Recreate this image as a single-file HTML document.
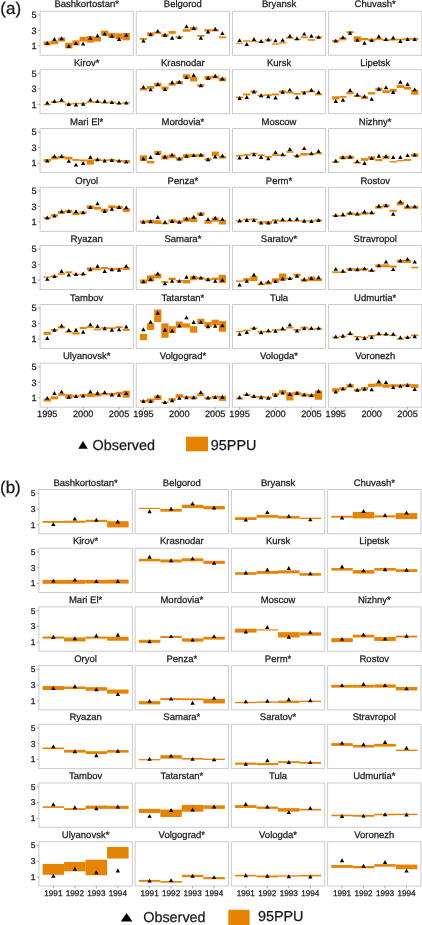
<!DOCTYPE html>
<html><head><meta charset="utf-8"><style>
html,body{margin:0;padding:0;background:#fff;width:422px;height:925px;overflow:hidden}
svg{display:block;will-change:transform}
text{font-family:"Liberation Sans",sans-serif;stroke:#1a1a1a;stroke-width:0.25px;text-rendering:geometricPrecision}
</style></head><body>
<svg width="422" height="925" viewBox="0 0 422 925">
<rect x="40.10" y="11.26" width="93.20" height="44.00" fill="#fff" stroke="#cbcbcb" stroke-width="1"/>
<line x1="37.70" x2="40.10" y1="14.86" y2="14.86" stroke="#9a9a9a" stroke-width="0.8"/>
<line x1="37.70" x2="40.10" y1="30.36" y2="30.36" stroke="#9a9a9a" stroke-width="0.8"/>
<line x1="37.70" x2="40.10" y1="45.86" y2="45.86" stroke="#9a9a9a" stroke-width="0.8"/>
<rect x="43.66" y="41.48" width="7.18" height="3.94" fill="#E68300"/>
<rect x="50.84" y="40.79" width="7.18" height="3.48" fill="#E68300"/>
<rect x="58.02" y="37.54" width="7.18" height="3.94" fill="#E68300"/>
<rect x="65.20" y="42.64" width="7.18" height="5.80" fill="#E68300"/>
<rect x="72.38" y="40.32" width="7.18" height="5.10" fill="#E68300"/>
<rect x="79.56" y="36.84" width="7.18" height="4.64" fill="#E68300"/>
<rect x="86.74" y="36.15" width="7.18" height="6.50" fill="#E68300"/>
<rect x="93.92" y="36.84" width="7.18" height="4.64" fill="#E68300"/>
<rect x="101.10" y="30.58" width="7.18" height="5.10" fill="#E68300"/>
<rect x="108.28" y="32.90" width="7.18" height="5.10" fill="#E68300"/>
<rect x="115.46" y="33.36" width="7.18" height="5.80" fill="#E68300"/>
<rect x="122.64" y="32.90" width="7.18" height="7.42" fill="#E68300"/>
<path d="M45.05 44.86L47.25 40.96L49.45 44.86Z"/>
<path d="M52.23 40.91L54.43 37.01L56.63 40.91Z"/>
<path d="M59.41 40.22L61.61 36.32L63.81 40.22Z"/>
<path d="M66.59 47.87L68.79 43.97L70.99 47.87Z"/>
<path d="M73.77 45.09L75.97 41.19L78.17 45.09Z"/>
<path d="M80.95 45.55L83.15 41.65L85.35 45.55Z"/>
<path d="M88.13 39.75L90.33 35.85L92.53 39.75Z"/>
<path d="M95.31 37.43L97.51 33.53L99.71 37.43Z"/>
<path d="M102.49 35.58L104.69 31.68L106.89 35.58Z"/>
<path d="M109.67 37.66L111.87 33.76L114.07 37.66Z"/>
<path d="M116.85 40.91L119.05 37.01L121.25 40.91Z"/>
<path d="M124.03 36.74L126.23 32.84L128.43 36.74Z"/>
<text x="86.70" y="7.41" font-size="9.5" text-anchor="middle" fill="#1a1a1a">Bashkortostan*</text>
<text x="36.70" y="18.06" font-size="9.2" text-anchor="end" fill="#1a1a1a">5</text>
<text x="36.70" y="33.56" font-size="9.2" text-anchor="end" fill="#1a1a1a">3</text>
<text x="36.70" y="49.06" font-size="9.2" text-anchor="end" fill="#1a1a1a">1</text>
<rect x="136.27" y="11.26" width="93.20" height="44.00" fill="#fff" stroke="#cbcbcb" stroke-width="1"/>
<rect x="139.83" y="38.00" width="7.18" height="1.86" fill="#E68300"/>
<rect x="147.01" y="32.43" width="7.18" height="3.25" fill="#E68300"/>
<rect x="154.19" y="31.74" width="7.18" height="2.09" fill="#E68300"/>
<rect x="161.37" y="34.06" width="7.18" height="2.78" fill="#E68300"/>
<rect x="168.55" y="31.04" width="7.18" height="2.78" fill="#E68300"/>
<rect x="175.73" y="36.15" width="7.18" height="1.86" fill="#E68300"/>
<rect x="182.91" y="29.19" width="7.18" height="2.55" fill="#E68300"/>
<rect x="190.09" y="26.87" width="7.18" height="3.48" fill="#E68300"/>
<rect x="197.27" y="34.99" width="7.18" height="1.86" fill="#E68300"/>
<rect x="204.45" y="29.19" width="7.18" height="2.32" fill="#E68300"/>
<rect x="211.63" y="29.19" width="7.18" height="2.32" fill="#E68300"/>
<rect x="218.81" y="36.38" width="7.18" height="1.86" fill="#E68300"/>
<path d="M141.22 42.54L143.42 38.64L145.62 42.54Z"/>
<path d="M148.40 36.27L150.60 32.37L152.80 36.27Z"/>
<path d="M155.58 32.79L157.78 28.89L159.98 32.79Z"/>
<path d="M162.76 36.74L164.96 32.84L167.16 36.74Z"/>
<path d="M169.94 39.75L172.14 35.85L174.34 39.75Z"/>
<path d="M177.12 39.06L179.32 35.16L181.52 39.06Z"/>
<path d="M184.30 28.15L186.50 24.25L188.70 28.15Z"/>
<path d="M191.48 29.78L193.68 25.88L195.88 29.78Z"/>
<path d="M198.66 39.75L200.86 35.85L203.06 39.75Z"/>
<path d="M205.84 33.49L208.04 29.59L210.24 33.49Z"/>
<path d="M213.02 30.70L215.22 26.80L217.42 30.70Z"/>
<path d="M220.20 35.11L222.40 31.21L224.60 35.11Z"/>
<text x="182.87" y="7.41" font-size="9.5" text-anchor="middle" fill="#1a1a1a">Belgorod</text>
<rect x="232.44" y="11.26" width="93.20" height="44.00" fill="#fff" stroke="#cbcbcb" stroke-width="1"/>
<rect x="236.00" y="42.62" width="7.18" height="1.20" fill="#E68300"/>
<rect x="243.18" y="40.32" width="7.18" height="1.39" fill="#E68300"/>
<rect x="250.36" y="40.79" width="7.18" height="1.39" fill="#E68300"/>
<rect x="257.54" y="41.48" width="7.18" height="1.39" fill="#E68300"/>
<rect x="264.72" y="39.16" width="7.18" height="1.62" fill="#E68300"/>
<rect x="271.90" y="43.34" width="7.18" height="1.39" fill="#E68300"/>
<rect x="279.08" y="42.18" width="7.18" height="1.39" fill="#E68300"/>
<rect x="286.26" y="36.84" width="7.18" height="1.86" fill="#E68300"/>
<rect x="293.44" y="38.70" width="7.18" height="1.39" fill="#E68300"/>
<rect x="300.62" y="36.38" width="7.18" height="1.86" fill="#E68300"/>
<rect x="307.80" y="39.16" width="7.18" height="1.62" fill="#E68300"/>
<rect x="314.98" y="36.38" width="7.18" height="1.86" fill="#E68300"/>
<path d="M237.39 42.07L239.59 38.17L241.79 42.07Z"/>
<path d="M244.57 46.02L246.77 42.12L248.97 46.02Z"/>
<path d="M251.75 40.91L253.95 37.01L256.15 40.91Z"/>
<path d="M258.93 43.00L261.13 39.10L263.33 43.00Z"/>
<path d="M266.11 41.38L268.31 37.48L270.51 41.38Z"/>
<path d="M273.29 42.30L275.49 38.40L277.69 42.30Z"/>
<path d="M280.47 41.84L282.67 37.94L284.87 41.84Z"/>
<path d="M287.65 37.66L289.85 33.76L292.05 37.66Z"/>
<path d="M294.83 40.22L297.03 36.32L299.23 40.22Z"/>
<path d="M302.01 35.58L304.21 31.68L306.41 35.58Z"/>
<path d="M309.19 37.66L311.39 33.76L313.59 37.66Z"/>
<path d="M316.37 38.82L318.57 34.92L320.77 38.82Z"/>
<text x="279.04" y="7.41" font-size="9.5" text-anchor="middle" fill="#1a1a1a">Bryansk</text>
<rect x="328.61" y="11.26" width="93.20" height="44.00" fill="#fff" stroke="#cbcbcb" stroke-width="1"/>
<rect x="332.17" y="39.86" width="7.18" height="2.32" fill="#E68300"/>
<rect x="339.35" y="37.31" width="7.18" height="3.02" fill="#E68300"/>
<rect x="346.53" y="31.27" width="7.18" height="1.86" fill="#E68300"/>
<rect x="353.71" y="36.38" width="7.18" height="5.10" fill="#E68300"/>
<rect x="360.89" y="38.00" width="7.18" height="2.32" fill="#E68300"/>
<rect x="368.07" y="38.70" width="7.18" height="2.32" fill="#E68300"/>
<rect x="375.25" y="38.00" width="7.18" height="1.86" fill="#E68300"/>
<rect x="382.43" y="39.16" width="7.18" height="1.86" fill="#E68300"/>
<rect x="389.61" y="38.70" width="7.18" height="1.86" fill="#E68300"/>
<rect x="396.79" y="38.70" width="7.18" height="1.62" fill="#E68300"/>
<rect x="403.97" y="38.00" width="7.18" height="1.86" fill="#E68300"/>
<rect x="411.15" y="38.00" width="7.18" height="1.86" fill="#E68300"/>
<path d="M333.56 42.54L335.76 38.64L337.96 42.54Z"/>
<path d="M340.74 39.06L342.94 35.16L345.14 39.06Z"/>
<path d="M347.92 34.65L350.12 30.75L352.32 34.65Z"/>
<path d="M355.10 41.84L357.30 37.94L359.50 41.84Z"/>
<path d="M362.28 44.86L364.48 40.96L366.68 44.86Z"/>
<path d="M369.46 42.07L371.66 38.17L373.86 42.07Z"/>
<path d="M376.64 38.13L378.84 34.23L381.04 38.13Z"/>
<path d="M383.82 40.91L386.02 37.01L388.22 40.91Z"/>
<path d="M391.00 39.52L393.20 35.62L395.40 39.52Z"/>
<path d="M398.18 43.00L400.38 39.10L402.58 43.00Z"/>
<path d="M405.36 40.91L407.56 37.01L409.76 40.91Z"/>
<path d="M412.54 40.91L414.74 37.01L416.94 40.91Z"/>
<text x="375.21" y="7.41" font-size="9.5" text-anchor="middle" fill="#1a1a1a">Chuvash*</text>
<rect x="40.10" y="69.70" width="93.20" height="44.00" fill="#fff" stroke="#cbcbcb" stroke-width="1"/>
<line x1="37.70" x2="40.10" y1="73.30" y2="73.30" stroke="#9a9a9a" stroke-width="0.8"/>
<line x1="37.70" x2="40.10" y1="88.80" y2="88.80" stroke="#9a9a9a" stroke-width="0.8"/>
<line x1="37.70" x2="40.10" y1="104.30" y2="104.30" stroke="#9a9a9a" stroke-width="0.8"/>
<rect x="43.66" y="103.96" width="7.18" height="1.39" fill="#E68300"/>
<rect x="50.84" y="101.18" width="7.18" height="1.62" fill="#E68300"/>
<rect x="58.02" y="100.95" width="7.18" height="1.62" fill="#E68300"/>
<rect x="65.20" y="103.27" width="7.18" height="1.62" fill="#E68300"/>
<rect x="72.38" y="102.80" width="7.18" height="1.39" fill="#E68300"/>
<rect x="79.56" y="102.80" width="7.18" height="1.39" fill="#E68300"/>
<rect x="86.74" y="101.18" width="7.18" height="1.62" fill="#E68300"/>
<rect x="93.92" y="101.18" width="7.18" height="1.62" fill="#E68300"/>
<rect x="101.10" y="102.34" width="7.18" height="1.39" fill="#E68300"/>
<rect x="108.28" y="101.64" width="7.18" height="1.62" fill="#E68300"/>
<rect x="115.46" y="102.80" width="7.18" height="1.39" fill="#E68300"/>
<rect x="122.64" y="102.11" width="7.18" height="1.39" fill="#E68300"/>
<path d="M45.05 104.55L47.25 100.65L49.45 104.55Z"/>
<path d="M52.23 102.93L54.43 99.03L56.63 102.93Z"/>
<path d="M59.41 101.54L61.61 97.64L63.81 101.54Z"/>
<path d="M66.59 105.94L68.79 102.04L70.99 105.94Z"/>
<path d="M73.77 106.41L75.97 102.51L78.17 106.41Z"/>
<path d="M80.95 105.71L83.15 101.81L85.35 105.71Z"/>
<path d="M88.13 101.54L90.33 97.64L92.53 101.54Z"/>
<path d="M95.31 102.93L97.51 99.03L99.71 102.93Z"/>
<path d="M102.49 102.93L104.69 99.03L106.89 102.93Z"/>
<path d="M109.67 104.09L111.87 100.19L114.07 104.09Z"/>
<path d="M116.85 104.55L119.05 100.65L121.25 104.55Z"/>
<path d="M124.03 104.55L126.23 100.65L128.43 104.55Z"/>
<text x="86.70" y="65.85" font-size="9.5" text-anchor="middle" fill="#1a1a1a">Kirov*</text>
<text x="36.70" y="76.50" font-size="9.2" text-anchor="end" fill="#1a1a1a">5</text>
<text x="36.70" y="92.00" font-size="9.2" text-anchor="end" fill="#1a1a1a">3</text>
<text x="36.70" y="107.50" font-size="9.2" text-anchor="end" fill="#1a1a1a">1</text>
<rect x="136.27" y="69.70" width="93.20" height="44.00" fill="#fff" stroke="#cbcbcb" stroke-width="1"/>
<rect x="139.83" y="87.95" width="7.18" height="2.55" fill="#E68300"/>
<rect x="147.01" y="86.10" width="7.18" height="2.78" fill="#E68300"/>
<rect x="154.19" y="82.85" width="7.18" height="3.71" fill="#E68300"/>
<rect x="161.37" y="86.56" width="7.18" height="3.02" fill="#E68300"/>
<rect x="168.55" y="82.85" width="7.18" height="2.78" fill="#E68300"/>
<rect x="175.73" y="80.99" width="7.18" height="3.25" fill="#E68300"/>
<rect x="182.91" y="74.26" width="7.18" height="4.18" fill="#E68300"/>
<rect x="190.09" y="76.82" width="7.18" height="4.64" fill="#E68300"/>
<rect x="197.27" y="84.24" width="7.18" height="2.32" fill="#E68300"/>
<rect x="204.45" y="75.89" width="7.18" height="3.71" fill="#E68300"/>
<rect x="211.63" y="75.66" width="7.18" height="2.78" fill="#E68300"/>
<rect x="218.81" y="77.74" width="7.18" height="3.48" fill="#E68300"/>
<path d="M141.22 88.78L143.42 84.88L145.62 88.78Z"/>
<path d="M148.40 91.33L150.60 87.43L152.80 91.33Z"/>
<path d="M155.58 85.99L157.78 82.09L159.98 85.99Z"/>
<path d="M162.76 91.10L164.96 87.20L167.16 91.10Z"/>
<path d="M169.94 84.14L172.14 80.24L174.34 84.14Z"/>
<path d="M177.12 83.67L179.32 79.77L181.52 83.67Z"/>
<path d="M184.30 79.03L186.50 75.13L188.70 79.03Z"/>
<path d="M191.48 76.94L193.68 73.04L195.88 76.94Z"/>
<path d="M198.66 87.15L200.86 83.25L203.06 87.15Z"/>
<path d="M205.84 79.73L208.04 75.83L210.24 79.73Z"/>
<path d="M213.02 77.64L215.22 73.74L217.42 77.64Z"/>
<path d="M220.20 80.42L222.40 76.52L224.60 80.42Z"/>
<text x="182.87" y="65.85" font-size="9.5" text-anchor="middle" fill="#1a1a1a">Krasnodar</text>
<rect x="232.44" y="69.70" width="93.20" height="44.00" fill="#fff" stroke="#cbcbcb" stroke-width="1"/>
<rect x="236.00" y="96.54" width="7.18" height="1.62" fill="#E68300"/>
<rect x="243.18" y="93.52" width="7.18" height="1.86" fill="#E68300"/>
<rect x="250.36" y="90.51" width="7.18" height="2.09" fill="#E68300"/>
<rect x="257.54" y="94.68" width="7.18" height="1.62" fill="#E68300"/>
<rect x="264.72" y="94.22" width="7.18" height="1.62" fill="#E68300"/>
<rect x="271.90" y="93.52" width="7.18" height="1.86" fill="#E68300"/>
<rect x="279.08" y="90.51" width="7.18" height="2.32" fill="#E68300"/>
<rect x="286.26" y="91.67" width="7.18" height="1.86" fill="#E68300"/>
<rect x="293.44" y="93.06" width="7.18" height="1.62" fill="#E68300"/>
<rect x="300.62" y="91.20" width="7.18" height="1.62" fill="#E68300"/>
<rect x="307.80" y="90.51" width="7.18" height="1.86" fill="#E68300"/>
<rect x="314.98" y="93.52" width="7.18" height="1.86" fill="#E68300"/>
<path d="M237.39 99.91L239.59 96.01L241.79 99.91Z"/>
<path d="M244.57 98.98L246.77 95.08L248.97 98.98Z"/>
<path d="M251.75 93.42L253.95 89.52L256.15 93.42Z"/>
<path d="M258.93 97.13L261.13 93.23L263.33 97.13Z"/>
<path d="M266.11 98.29L268.31 94.39L270.51 98.29Z"/>
<path d="M273.29 99.45L275.49 95.55L277.69 99.45Z"/>
<path d="M280.47 93.65L282.67 89.75L284.87 93.65Z"/>
<path d="M287.65 91.56L289.85 87.66L292.05 91.56Z"/>
<path d="M294.83 99.22L297.03 95.32L299.23 99.22Z"/>
<path d="M302.01 94.58L304.21 90.68L306.41 94.58Z"/>
<path d="M309.19 91.79L311.39 87.89L313.59 91.79Z"/>
<path d="M316.37 93.88L318.57 89.98L320.77 93.88Z"/>
<text x="279.04" y="65.85" font-size="9.5" text-anchor="middle" fill="#1a1a1a">Kursk</text>
<rect x="328.61" y="69.70" width="93.20" height="44.00" fill="#fff" stroke="#cbcbcb" stroke-width="1"/>
<rect x="332.17" y="96.31" width="7.18" height="3.25" fill="#E68300"/>
<rect x="339.35" y="95.84" width="7.18" height="1.86" fill="#E68300"/>
<rect x="346.53" y="91.67" width="7.18" height="2.55" fill="#E68300"/>
<rect x="353.71" y="95.15" width="7.18" height="1.86" fill="#E68300"/>
<rect x="360.89" y="96.31" width="7.18" height="2.78" fill="#E68300"/>
<rect x="368.07" y="92.13" width="7.18" height="2.32" fill="#E68300"/>
<rect x="375.25" y="87.72" width="7.18" height="2.78" fill="#E68300"/>
<rect x="382.43" y="90.27" width="7.18" height="2.78" fill="#E68300"/>
<rect x="389.61" y="88.88" width="7.18" height="3.02" fill="#E68300"/>
<rect x="396.79" y="84.94" width="7.18" height="3.02" fill="#E68300"/>
<rect x="403.97" y="86.56" width="7.18" height="3.02" fill="#E68300"/>
<rect x="411.15" y="90.04" width="7.18" height="4.64" fill="#E68300"/>
<path d="M333.56 102.93L335.76 99.03L337.96 102.93Z"/>
<path d="M340.74 101.77L342.94 97.87L345.14 101.77Z"/>
<path d="M347.92 92.02L350.12 88.12L352.32 92.02Z"/>
<path d="M355.10 96.43L357.30 92.53L359.50 96.43Z"/>
<path d="M362.28 98.06L364.48 94.16L366.68 98.06Z"/>
<path d="M369.46 100.84L371.66 96.94L373.86 100.84Z"/>
<path d="M376.64 90.63L378.84 86.73L381.04 90.63Z"/>
<path d="M383.82 89.24L386.02 85.34L388.22 89.24Z"/>
<path d="M391.00 93.88L393.20 89.98L395.40 93.88Z"/>
<path d="M398.18 83.67L400.38 79.77L402.58 83.67Z"/>
<path d="M405.36 85.99L407.56 82.09L409.76 85.99Z"/>
<path d="M412.54 91.33L414.74 87.43L416.94 91.33Z"/>
<text x="375.21" y="65.85" font-size="9.5" text-anchor="middle" fill="#1a1a1a">Lipetsk</text>
<rect x="40.10" y="128.53" width="93.20" height="44.00" fill="#fff" stroke="#cbcbcb" stroke-width="1"/>
<line x1="37.70" x2="40.10" y1="132.13" y2="132.13" stroke="#9a9a9a" stroke-width="0.8"/>
<line x1="37.70" x2="40.10" y1="147.63" y2="147.63" stroke="#9a9a9a" stroke-width="0.8"/>
<line x1="37.70" x2="40.10" y1="163.13" y2="163.13" stroke="#9a9a9a" stroke-width="0.8"/>
<rect x="43.66" y="159.02" width="7.18" height="2.78" fill="#E68300"/>
<rect x="50.84" y="156.47" width="7.18" height="3.02" fill="#E68300"/>
<rect x="58.02" y="156.00" width="7.18" height="2.55" fill="#E68300"/>
<rect x="65.20" y="156.70" width="7.18" height="2.78" fill="#E68300"/>
<rect x="72.38" y="159.02" width="7.18" height="1.86" fill="#E68300"/>
<rect x="79.56" y="159.48" width="7.18" height="1.86" fill="#E68300"/>
<rect x="86.74" y="159.48" width="7.18" height="5.10" fill="#E68300"/>
<rect x="93.92" y="158.79" width="7.18" height="2.09" fill="#E68300"/>
<rect x="101.10" y="159.48" width="7.18" height="1.62" fill="#E68300"/>
<rect x="108.28" y="159.02" width="7.18" height="1.86" fill="#E68300"/>
<rect x="115.46" y="159.95" width="7.18" height="1.86" fill="#E68300"/>
<rect x="122.64" y="159.95" width="7.18" height="2.78" fill="#E68300"/>
<path d="M45.05 162.62L47.25 158.72L49.45 162.62Z"/>
<path d="M52.23 157.98L54.43 154.08L56.63 157.98Z"/>
<path d="M59.41 157.98L61.61 154.08L63.81 157.98Z"/>
<path d="M66.59 162.86L68.79 158.96L70.99 162.86Z"/>
<path d="M73.77 166.57L75.97 162.67L78.17 166.57Z"/>
<path d="M80.95 164.94L83.15 161.04L85.35 164.94Z"/>
<path d="M88.13 158.91L90.33 155.01L92.53 158.91Z"/>
<path d="M95.31 161.23L97.51 157.33L99.71 161.23Z"/>
<path d="M102.49 162.62L104.69 158.72L106.89 162.62Z"/>
<path d="M109.67 161.93L111.87 158.03L114.07 161.93Z"/>
<path d="M116.85 162.62L119.05 158.72L121.25 162.62Z"/>
<path d="M124.03 163.55L126.23 159.65L128.43 163.55Z"/>
<text x="86.70" y="124.68" font-size="9.5" text-anchor="middle" fill="#1a1a1a">Mari El*</text>
<text x="36.70" y="135.33" font-size="9.2" text-anchor="end" fill="#1a1a1a">5</text>
<text x="36.70" y="150.83" font-size="9.2" text-anchor="end" fill="#1a1a1a">3</text>
<text x="36.70" y="166.33" font-size="9.2" text-anchor="end" fill="#1a1a1a">1</text>
<rect x="136.27" y="128.53" width="93.20" height="44.00" fill="#fff" stroke="#cbcbcb" stroke-width="1"/>
<rect x="139.83" y="155.31" width="7.18" height="5.57" fill="#E68300"/>
<rect x="147.01" y="160.87" width="7.18" height="2.55" fill="#E68300"/>
<rect x="154.19" y="150.90" width="7.18" height="3.94" fill="#E68300"/>
<rect x="161.37" y="155.31" width="7.18" height="4.18" fill="#E68300"/>
<rect x="168.55" y="154.38" width="7.18" height="3.71" fill="#E68300"/>
<rect x="175.73" y="157.16" width="7.18" height="3.25" fill="#E68300"/>
<rect x="182.91" y="154.15" width="7.18" height="3.48" fill="#E68300"/>
<rect x="190.09" y="154.15" width="7.18" height="3.02" fill="#E68300"/>
<rect x="197.27" y="153.91" width="7.18" height="3.25" fill="#E68300"/>
<rect x="204.45" y="158.32" width="7.18" height="2.09" fill="#E68300"/>
<rect x="211.63" y="151.59" width="7.18" height="4.41" fill="#E68300"/>
<rect x="218.81" y="156.00" width="7.18" height="2.55" fill="#E68300"/>
<path d="M141.22 160.54L143.42 156.64L145.62 160.54Z"/>
<path d="M148.40 158.91L150.60 155.01L152.80 158.91Z"/>
<path d="M155.58 154.97L157.78 151.07L159.98 154.97Z"/>
<path d="M162.76 158.45L164.96 154.55L167.16 158.45Z"/>
<path d="M169.94 156.59L172.14 152.69L174.34 156.59Z"/>
<path d="M177.12 160.54L179.32 156.64L181.52 160.54Z"/>
<path d="M184.30 157.75L186.50 153.85L188.70 157.75Z"/>
<path d="M191.48 157.06L193.68 153.16L195.88 157.06Z"/>
<path d="M198.66 156.59L200.86 152.69L203.06 156.59Z"/>
<path d="M205.84 161.23L208.04 157.33L210.24 161.23Z"/>
<path d="M213.02 158.45L215.22 154.55L217.42 158.45Z"/>
<path d="M220.20 157.52L222.40 153.62L224.60 157.52Z"/>
<text x="182.87" y="124.68" font-size="9.5" text-anchor="middle" fill="#1a1a1a">Mordovia*</text>
<rect x="232.44" y="128.53" width="93.20" height="44.00" fill="#fff" stroke="#cbcbcb" stroke-width="1"/>
<rect x="236.00" y="154.84" width="7.18" height="1.62" fill="#E68300"/>
<rect x="243.18" y="154.15" width="7.18" height="1.62" fill="#E68300"/>
<rect x="250.36" y="152.75" width="7.18" height="1.62" fill="#E68300"/>
<rect x="257.54" y="154.38" width="7.18" height="1.62" fill="#E68300"/>
<rect x="264.72" y="156.00" width="7.18" height="1.62" fill="#E68300"/>
<rect x="271.90" y="154.15" width="7.18" height="1.86" fill="#E68300"/>
<rect x="279.08" y="154.38" width="7.18" height="1.62" fill="#E68300"/>
<rect x="286.26" y="151.13" width="7.18" height="1.62" fill="#E68300"/>
<rect x="293.44" y="154.84" width="7.18" height="1.86" fill="#E68300"/>
<rect x="300.62" y="152.99" width="7.18" height="2.55" fill="#E68300"/>
<rect x="307.80" y="152.99" width="7.18" height="1.86" fill="#E68300"/>
<rect x="314.98" y="152.52" width="7.18" height="1.86" fill="#E68300"/>
<path d="M237.39 159.61L239.59 155.71L241.79 159.61Z"/>
<path d="M244.57 158.91L246.77 155.01L248.97 158.91Z"/>
<path d="M251.75 156.13L253.95 152.23L256.15 156.13Z"/>
<path d="M258.93 158.91L261.13 155.01L263.33 158.91Z"/>
<path d="M266.11 160.30L268.31 156.40L270.51 160.30Z"/>
<path d="M273.29 154.04L275.49 150.14L277.69 154.04Z"/>
<path d="M280.47 156.13L282.67 152.23L284.87 156.13Z"/>
<path d="M287.65 151.02L289.85 147.12L292.05 151.02Z"/>
<path d="M294.83 157.52L297.03 153.62L299.23 157.52Z"/>
<path d="M302.01 150.10L304.21 146.20L306.41 150.10Z"/>
<path d="M309.19 155.20L311.39 151.30L313.59 155.20Z"/>
<path d="M316.37 152.88L318.57 148.98L320.77 152.88Z"/>
<text x="279.04" y="124.68" font-size="9.5" text-anchor="middle" fill="#1a1a1a">Moscow</text>
<rect x="328.61" y="128.53" width="93.20" height="44.00" fill="#fff" stroke="#cbcbcb" stroke-width="1"/>
<rect x="332.17" y="161.34" width="7.18" height="1.62" fill="#E68300"/>
<rect x="339.35" y="156.23" width="7.18" height="2.78" fill="#E68300"/>
<rect x="346.53" y="155.77" width="7.18" height="3.25" fill="#E68300"/>
<rect x="353.71" y="161.80" width="7.18" height="1.86" fill="#E68300"/>
<rect x="360.89" y="158.09" width="7.18" height="2.78" fill="#E68300"/>
<rect x="368.07" y="156.23" width="7.18" height="3.25" fill="#E68300"/>
<rect x="375.25" y="159.02" width="7.18" height="2.09" fill="#E68300"/>
<rect x="382.43" y="155.77" width="7.18" height="3.25" fill="#E68300"/>
<rect x="389.61" y="161.11" width="7.18" height="1.39" fill="#E68300"/>
<rect x="396.79" y="159.95" width="7.18" height="1.39" fill="#E68300"/>
<rect x="403.97" y="159.02" width="7.18" height="1.86" fill="#E68300"/>
<rect x="411.15" y="153.45" width="7.18" height="3.25" fill="#E68300"/>
<path d="M333.56 162.62L335.76 158.72L337.96 162.62Z"/>
<path d="M340.74 159.14L342.94 155.24L345.14 159.14Z"/>
<path d="M347.92 158.45L350.12 154.55L352.32 158.45Z"/>
<path d="M355.10 163.09L357.30 159.19L359.50 163.09Z"/>
<path d="M362.28 164.94L364.48 161.04L366.68 164.94Z"/>
<path d="M369.46 160.07L371.66 156.17L373.86 160.07Z"/>
<path d="M376.64 157.75L378.84 153.85L381.04 157.75Z"/>
<path d="M383.82 157.98L386.02 154.08L388.22 157.98Z"/>
<path d="M391.00 158.91L393.20 155.01L395.40 158.91Z"/>
<path d="M398.18 158.91L400.38 155.01L402.58 158.91Z"/>
<path d="M405.36 157.06L407.56 153.16L409.76 157.06Z"/>
<path d="M412.54 156.59L414.74 152.69L416.94 156.59Z"/>
<text x="375.21" y="124.68" font-size="9.5" text-anchor="middle" fill="#1a1a1a">Nizhny*</text>
<rect x="40.10" y="187.35" width="93.20" height="44.00" fill="#fff" stroke="#cbcbcb" stroke-width="1"/>
<line x1="37.70" x2="40.10" y1="190.95" y2="190.95" stroke="#9a9a9a" stroke-width="0.8"/>
<line x1="37.70" x2="40.10" y1="206.45" y2="206.45" stroke="#9a9a9a" stroke-width="0.8"/>
<line x1="37.70" x2="40.10" y1="221.95" y2="221.95" stroke="#9a9a9a" stroke-width="0.8"/>
<rect x="43.66" y="217.02" width="7.18" height="1.86" fill="#E68300"/>
<rect x="50.84" y="214.23" width="7.18" height="2.32" fill="#E68300"/>
<rect x="58.02" y="210.99" width="7.18" height="2.78" fill="#E68300"/>
<rect x="65.20" y="209.83" width="7.18" height="2.55" fill="#E68300"/>
<rect x="72.38" y="212.38" width="7.18" height="2.78" fill="#E68300"/>
<rect x="79.56" y="211.45" width="7.18" height="2.32" fill="#E68300"/>
<rect x="86.74" y="205.42" width="7.18" height="3.25" fill="#E68300"/>
<rect x="93.92" y="206.81" width="7.18" height="2.78" fill="#E68300"/>
<rect x="101.10" y="208.67" width="7.18" height="3.25" fill="#E68300"/>
<rect x="108.28" y="205.42" width="7.18" height="2.78" fill="#E68300"/>
<rect x="115.46" y="205.88" width="7.18" height="2.78" fill="#E68300"/>
<rect x="122.64" y="208.20" width="7.18" height="3.71" fill="#E68300"/>
<path d="M45.05 219.46L47.25 215.56L49.45 219.46Z"/>
<path d="M52.23 217.61L54.43 213.71L56.63 217.61Z"/>
<path d="M59.41 213.20L61.61 209.30L63.81 213.20Z"/>
<path d="M66.59 212.97L68.79 209.07L70.99 212.97Z"/>
<path d="M73.77 213.20L75.97 209.30L78.17 213.20Z"/>
<path d="M80.95 214.13L83.15 210.23L85.35 214.13Z"/>
<path d="M88.13 209.02L90.33 205.12L92.53 209.02Z"/>
<path d="M95.31 205.31L97.51 201.41L99.71 205.31Z"/>
<path d="M102.49 212.97L104.69 209.07L106.89 212.97Z"/>
<path d="M109.67 210.65L111.87 206.75L114.07 210.65Z"/>
<path d="M116.85 209.02L119.05 205.12L121.25 209.02Z"/>
<path d="M124.03 209.26L126.23 205.36L128.43 209.26Z"/>
<text x="86.70" y="183.50" font-size="9.5" text-anchor="middle" fill="#1a1a1a">Oryol</text>
<text x="36.70" y="194.15" font-size="9.2" text-anchor="end" fill="#1a1a1a">5</text>
<text x="36.70" y="209.65" font-size="9.2" text-anchor="end" fill="#1a1a1a">3</text>
<text x="36.70" y="225.15" font-size="9.2" text-anchor="end" fill="#1a1a1a">1</text>
<rect x="136.27" y="187.35" width="93.20" height="44.00" fill="#fff" stroke="#cbcbcb" stroke-width="1"/>
<rect x="139.83" y="220.50" width="7.18" height="2.32" fill="#E68300"/>
<rect x="147.01" y="219.80" width="7.18" height="3.25" fill="#E68300"/>
<rect x="154.19" y="220.27" width="7.18" height="3.71" fill="#E68300"/>
<rect x="161.37" y="222.82" width="7.18" height="1.62" fill="#E68300"/>
<rect x="168.55" y="219.34" width="7.18" height="3.25" fill="#E68300"/>
<rect x="175.73" y="220.50" width="7.18" height="2.55" fill="#E68300"/>
<rect x="182.91" y="217.48" width="7.18" height="4.18" fill="#E68300"/>
<rect x="190.09" y="217.48" width="7.18" height="4.64" fill="#E68300"/>
<rect x="197.27" y="212.38" width="7.18" height="3.25" fill="#E68300"/>
<rect x="204.45" y="220.27" width="7.18" height="3.48" fill="#E68300"/>
<rect x="211.63" y="217.48" width="7.18" height="4.18" fill="#E68300"/>
<rect x="218.81" y="219.80" width="7.18" height="4.64" fill="#E68300"/>
<path d="M141.22 223.64L143.42 219.74L145.62 223.64Z"/>
<path d="M148.40 223.18L150.60 219.28L152.80 223.18Z"/>
<path d="M155.58 219.00L157.78 215.10L159.98 219.00Z"/>
<path d="M162.76 223.87L164.96 219.97L167.16 223.87Z"/>
<path d="M169.94 222.94L172.14 219.04L174.34 222.94Z"/>
<path d="M177.12 223.87L179.32 219.97L181.52 223.87Z"/>
<path d="M184.30 220.39L186.50 216.49L188.70 220.39Z"/>
<path d="M191.48 218.77L193.68 214.87L195.88 218.77Z"/>
<path d="M198.66 215.75L200.86 211.85L203.06 215.75Z"/>
<path d="M205.84 221.09L208.04 217.19L210.24 221.09Z"/>
<path d="M213.02 219.70L215.22 215.80L217.42 219.70Z"/>
<path d="M220.20 221.09L222.40 217.19L224.60 221.09Z"/>
<text x="182.87" y="183.50" font-size="9.5" text-anchor="middle" fill="#1a1a1a">Penza*</text>
<rect x="232.44" y="187.35" width="93.20" height="44.00" fill="#fff" stroke="#cbcbcb" stroke-width="1"/>
<rect x="236.00" y="220.27" width="7.18" height="1.39" fill="#E68300"/>
<rect x="243.18" y="218.64" width="7.18" height="1.62" fill="#E68300"/>
<rect x="250.36" y="218.64" width="7.18" height="1.62" fill="#E68300"/>
<rect x="257.54" y="221.43" width="7.18" height="1.86" fill="#E68300"/>
<rect x="264.72" y="220.96" width="7.18" height="3.02" fill="#E68300"/>
<rect x="271.90" y="219.34" width="7.18" height="2.09" fill="#E68300"/>
<rect x="279.08" y="220.27" width="7.18" height="1.86" fill="#E68300"/>
<rect x="286.26" y="220.27" width="7.18" height="1.39" fill="#E68300"/>
<rect x="293.44" y="220.27" width="7.18" height="1.39" fill="#E68300"/>
<rect x="300.62" y="220.27" width="7.18" height="1.39" fill="#E68300"/>
<rect x="307.80" y="220.27" width="7.18" height="1.39" fill="#E68300"/>
<rect x="314.98" y="219.34" width="7.18" height="1.86" fill="#E68300"/>
<path d="M237.39 222.48L239.59 218.58L241.79 222.48Z"/>
<path d="M244.57 222.02L246.77 218.12L248.97 222.02Z"/>
<path d="M251.75 222.02L253.95 218.12L256.15 222.02Z"/>
<path d="M258.93 224.57L261.13 220.67L263.33 224.57Z"/>
<path d="M266.11 224.57L268.31 220.67L270.51 224.57Z"/>
<path d="M273.29 223.41L275.49 219.51L277.69 223.41Z"/>
<path d="M280.47 221.09L282.67 217.19L284.87 221.09Z"/>
<path d="M287.65 221.09L289.85 217.19L292.05 221.09Z"/>
<path d="M294.83 220.86L297.03 216.96L299.23 220.86Z"/>
<path d="M302.01 222.71L304.21 218.81L306.41 222.71Z"/>
<path d="M309.19 222.94L311.39 219.04L313.59 222.94Z"/>
<path d="M316.37 222.02L318.57 218.12L320.77 222.02Z"/>
<text x="279.04" y="183.50" font-size="9.5" text-anchor="middle" fill="#1a1a1a">Perm*</text>
<rect x="328.61" y="187.35" width="93.20" height="44.00" fill="#fff" stroke="#cbcbcb" stroke-width="1"/>
<rect x="332.17" y="214.93" width="7.18" height="1.62" fill="#E68300"/>
<rect x="339.35" y="215.16" width="7.18" height="1.39" fill="#E68300"/>
<rect x="346.53" y="212.38" width="7.18" height="2.78" fill="#E68300"/>
<rect x="353.71" y="213.31" width="7.18" height="2.09" fill="#E68300"/>
<rect x="360.89" y="212.15" width="7.18" height="2.55" fill="#E68300"/>
<rect x="368.07" y="212.38" width="7.18" height="1.86" fill="#E68300"/>
<rect x="375.25" y="205.88" width="7.18" height="2.78" fill="#E68300"/>
<rect x="382.43" y="204.49" width="7.18" height="2.78" fill="#E68300"/>
<rect x="389.61" y="209.83" width="7.18" height="1.86" fill="#E68300"/>
<rect x="396.79" y="201.71" width="7.18" height="3.71" fill="#E68300"/>
<rect x="403.97" y="206.35" width="7.18" height="2.78" fill="#E68300"/>
<rect x="411.15" y="205.88" width="7.18" height="2.78" fill="#E68300"/>
<path d="M333.56 216.91L335.76 213.01L337.96 216.91Z"/>
<path d="M340.74 216.22L342.94 212.32L345.14 216.22Z"/>
<path d="M347.92 214.59L350.12 210.69L352.32 214.59Z"/>
<path d="M355.10 215.52L357.30 211.62L359.50 215.52Z"/>
<path d="M362.28 213.43L364.48 209.53L366.68 213.43Z"/>
<path d="M369.46 214.13L371.66 210.23L373.86 214.13Z"/>
<path d="M376.64 207.63L378.84 203.73L381.04 207.63Z"/>
<path d="M383.82 207.17L386.02 203.27L388.22 207.17Z"/>
<path d="M391.00 215.75L393.20 211.85L395.40 215.75Z"/>
<path d="M398.18 203.46L400.38 199.56L402.58 203.46Z"/>
<path d="M405.36 207.63L407.56 203.73L409.76 207.63Z"/>
<path d="M412.54 208.33L414.74 204.43L416.94 208.33Z"/>
<text x="375.21" y="183.50" font-size="9.5" text-anchor="middle" fill="#1a1a1a">Rostov</text>
<rect x="40.10" y="245.48" width="93.20" height="44.00" fill="#fff" stroke="#cbcbcb" stroke-width="1"/>
<line x1="37.70" x2="40.10" y1="249.08" y2="249.08" stroke="#9a9a9a" stroke-width="0.8"/>
<line x1="37.70" x2="40.10" y1="264.58" y2="264.58" stroke="#9a9a9a" stroke-width="0.8"/>
<line x1="37.70" x2="40.10" y1="280.08" y2="280.08" stroke="#9a9a9a" stroke-width="0.8"/>
<rect x="43.66" y="276.48" width="7.18" height="1.39" fill="#E68300"/>
<rect x="50.84" y="275.55" width="7.18" height="1.62" fill="#E68300"/>
<rect x="58.02" y="273.23" width="7.18" height="1.62" fill="#E68300"/>
<rect x="65.20" y="271.38" width="7.18" height="1.86" fill="#E68300"/>
<rect x="72.38" y="273.70" width="7.18" height="1.39" fill="#E68300"/>
<rect x="79.56" y="273.70" width="7.18" height="1.39" fill="#E68300"/>
<rect x="86.74" y="267.43" width="7.18" height="2.78" fill="#E68300"/>
<rect x="93.92" y="268.36" width="7.18" height="1.86" fill="#E68300"/>
<rect x="101.10" y="266.97" width="7.18" height="2.09" fill="#E68300"/>
<rect x="108.28" y="268.13" width="7.18" height="1.86" fill="#E68300"/>
<rect x="115.46" y="267.67" width="7.18" height="2.32" fill="#E68300"/>
<rect x="122.64" y="267.20" width="7.18" height="2.78" fill="#E68300"/>
<path d="M45.05 280.78L47.25 276.88L49.45 280.78Z"/>
<path d="M52.23 278.00L54.43 274.10L56.63 278.00Z"/>
<path d="M59.41 272.90L61.61 269.00L63.81 272.90Z"/>
<path d="M66.59 276.61L68.79 272.71L70.99 276.61Z"/>
<path d="M73.77 275.91L75.97 272.01L78.17 275.91Z"/>
<path d="M80.95 275.45L83.15 271.55L85.35 275.45Z"/>
<path d="M88.13 271.27L90.33 267.37L92.53 271.27Z"/>
<path d="M95.31 268.02L97.51 264.12L99.71 268.02Z"/>
<path d="M102.49 272.90L104.69 269.00L106.89 272.90Z"/>
<path d="M109.67 271.27L111.87 267.37L114.07 271.27Z"/>
<path d="M116.85 271.74L119.05 267.84L121.25 271.74Z"/>
<path d="M124.03 267.79L126.23 263.89L128.43 267.79Z"/>
<text x="86.70" y="241.63" font-size="9.5" text-anchor="middle" fill="#1a1a1a">Ryazan</text>
<text x="36.70" y="252.28" font-size="9.2" text-anchor="end" fill="#1a1a1a">5</text>
<text x="36.70" y="267.78" font-size="9.2" text-anchor="end" fill="#1a1a1a">3</text>
<text x="36.70" y="283.28" font-size="9.2" text-anchor="end" fill="#1a1a1a">1</text>
<rect x="136.27" y="245.48" width="93.20" height="44.00" fill="#fff" stroke="#cbcbcb" stroke-width="1"/>
<rect x="139.83" y="279.50" width="7.18" height="3.94" fill="#E68300"/>
<rect x="147.01" y="275.32" width="7.18" height="6.26" fill="#E68300"/>
<rect x="154.19" y="273.70" width="7.18" height="4.64" fill="#E68300"/>
<rect x="161.37" y="281.12" width="7.18" height="1.86" fill="#E68300"/>
<rect x="168.55" y="277.64" width="7.18" height="2.55" fill="#E68300"/>
<rect x="175.73" y="279.96" width="7.18" height="1.62" fill="#E68300"/>
<rect x="182.91" y="279.96" width="7.18" height="3.48" fill="#E68300"/>
<rect x="190.09" y="276.02" width="7.18" height="4.18" fill="#E68300"/>
<rect x="197.27" y="276.95" width="7.18" height="2.32" fill="#E68300"/>
<rect x="204.45" y="278.34" width="7.18" height="2.32" fill="#E68300"/>
<rect x="211.63" y="277.64" width="7.18" height="2.32" fill="#E68300"/>
<rect x="218.81" y="274.86" width="7.18" height="8.12" fill="#E68300"/>
<path d="M141.22 283.34L143.42 279.44L145.62 283.34Z"/>
<path d="M148.40 281.02L150.60 277.12L152.80 281.02Z"/>
<path d="M155.58 275.45L157.78 271.55L159.98 275.45Z"/>
<path d="M162.76 285.19L164.96 281.29L167.16 285.19Z"/>
<path d="M169.94 282.87L172.14 278.97L174.34 282.87Z"/>
<path d="M177.12 282.87L179.32 278.97L181.52 282.87Z"/>
<path d="M184.30 278.70L186.50 274.80L188.70 278.70Z"/>
<path d="M191.48 278.70L193.68 274.80L195.88 278.70Z"/>
<path d="M198.66 279.62L200.86 275.72L203.06 279.62Z"/>
<path d="M205.84 281.25L208.04 277.35L210.24 281.25Z"/>
<path d="M213.02 282.87L215.22 278.97L217.42 282.87Z"/>
<path d="M220.20 281.71L222.40 277.81L224.60 281.71Z"/>
<text x="182.87" y="241.63" font-size="9.5" text-anchor="middle" fill="#1a1a1a">Samara*</text>
<rect x="232.44" y="245.48" width="93.20" height="44.00" fill="#fff" stroke="#cbcbcb" stroke-width="1"/>
<rect x="236.00" y="280.43" width="7.18" height="1.39" fill="#E68300"/>
<rect x="243.18" y="278.11" width="7.18" height="3.02" fill="#E68300"/>
<rect x="250.36" y="276.02" width="7.18" height="5.10" fill="#E68300"/>
<rect x="257.54" y="283.44" width="7.18" height="1.86" fill="#E68300"/>
<rect x="264.72" y="281.82" width="7.18" height="2.78" fill="#E68300"/>
<rect x="271.90" y="278.34" width="7.18" height="3.94" fill="#E68300"/>
<rect x="279.08" y="273.47" width="7.18" height="7.19" fill="#E68300"/>
<rect x="286.26" y="277.64" width="7.18" height="1.62" fill="#E68300"/>
<rect x="293.44" y="273.70" width="7.18" height="2.78" fill="#E68300"/>
<rect x="300.62" y="278.80" width="7.18" height="3.02" fill="#E68300"/>
<rect x="307.80" y="276.48" width="7.18" height="4.64" fill="#E68300"/>
<rect x="314.98" y="278.34" width="7.18" height="2.78" fill="#E68300"/>
<path d="M237.39 286.59L239.59 282.69L241.79 286.59Z"/>
<path d="M244.57 282.87L246.77 278.97L248.97 282.87Z"/>
<path d="M251.75 276.61L253.95 272.71L256.15 276.61Z"/>
<path d="M258.93 284.50L261.13 280.60L263.33 284.50Z"/>
<path d="M266.11 283.57L268.31 279.67L270.51 283.57Z"/>
<path d="M273.29 283.10L275.49 279.20L277.69 283.10Z"/>
<path d="M280.47 280.55L282.67 276.65L284.87 280.55Z"/>
<path d="M287.65 280.09L289.85 276.19L292.05 280.09Z"/>
<path d="M294.83 277.77L297.03 273.87L299.23 277.77Z"/>
<path d="M302.01 281.02L304.21 277.12L306.41 281.02Z"/>
<path d="M309.19 280.09L311.39 276.19L313.59 280.09Z"/>
<path d="M316.37 279.16L318.57 275.26L320.77 279.16Z"/>
<text x="279.04" y="241.63" font-size="9.5" text-anchor="middle" fill="#1a1a1a">Saratov*</text>
<rect x="328.61" y="245.48" width="93.20" height="44.00" fill="#fff" stroke="#cbcbcb" stroke-width="1"/>
<rect x="332.17" y="271.38" width="7.18" height="1.62" fill="#E68300"/>
<rect x="339.35" y="271.38" width="7.18" height="1.62" fill="#E68300"/>
<rect x="346.53" y="268.13" width="7.18" height="2.32" fill="#E68300"/>
<rect x="353.71" y="268.36" width="7.18" height="2.55" fill="#E68300"/>
<rect x="360.89" y="268.13" width="7.18" height="2.32" fill="#E68300"/>
<rect x="368.07" y="269.99" width="7.18" height="1.86" fill="#E68300"/>
<rect x="375.25" y="264.42" width="7.18" height="2.78" fill="#E68300"/>
<rect x="382.43" y="264.42" width="7.18" height="2.78" fill="#E68300"/>
<rect x="389.61" y="265.58" width="7.18" height="2.09" fill="#E68300"/>
<rect x="396.79" y="259.78" width="7.18" height="2.78" fill="#E68300"/>
<rect x="403.97" y="259.78" width="7.18" height="3.25" fill="#E68300"/>
<rect x="411.15" y="266.74" width="7.18" height="1.62" fill="#E68300"/>
<path d="M333.56 270.81L335.76 266.91L337.96 270.81Z"/>
<path d="M340.74 272.66L342.94 268.76L345.14 272.66Z"/>
<path d="M347.92 270.81L350.12 266.91L352.32 270.81Z"/>
<path d="M355.10 271.27L357.30 267.37L359.50 271.27Z"/>
<path d="M362.28 270.34L364.48 266.44L366.68 270.34Z"/>
<path d="M369.46 271.74L371.66 267.84L373.86 271.74Z"/>
<path d="M376.64 267.33L378.84 263.43L381.04 267.33Z"/>
<path d="M383.82 263.62L386.02 259.72L388.22 263.62Z"/>
<path d="M391.00 271.04L393.20 267.14L395.40 271.04Z"/>
<path d="M398.18 262.46L400.38 258.56L402.58 262.46Z"/>
<path d="M405.36 260.83L407.56 256.93L409.76 260.83Z"/>
<path d="M412.54 263.62L414.74 259.72L416.94 263.62Z"/>
<text x="375.21" y="241.63" font-size="9.5" text-anchor="middle" fill="#1a1a1a">Stravropol</text>
<rect x="40.10" y="304.48" width="93.20" height="44.00" fill="#fff" stroke="#cbcbcb" stroke-width="1"/>
<line x1="37.70" x2="40.10" y1="308.08" y2="308.08" stroke="#9a9a9a" stroke-width="0.8"/>
<line x1="37.70" x2="40.10" y1="323.58" y2="323.58" stroke="#9a9a9a" stroke-width="0.8"/>
<line x1="37.70" x2="40.10" y1="339.08" y2="339.08" stroke="#9a9a9a" stroke-width="0.8"/>
<rect x="43.66" y="331.77" width="7.18" height="3.02" fill="#E68300"/>
<rect x="50.84" y="328.99" width="7.18" height="1.86" fill="#E68300"/>
<rect x="58.02" y="326.20" width="7.18" height="2.32" fill="#E68300"/>
<rect x="65.20" y="330.84" width="7.18" height="1.86" fill="#E68300"/>
<rect x="72.38" y="332.23" width="7.18" height="2.32" fill="#E68300"/>
<rect x="79.56" y="326.90" width="7.18" height="2.09" fill="#E68300"/>
<rect x="86.74" y="326.20" width="7.18" height="1.86" fill="#E68300"/>
<rect x="93.92" y="328.52" width="7.18" height="1.86" fill="#E68300"/>
<rect x="101.10" y="327.13" width="7.18" height="1.62" fill="#E68300"/>
<rect x="108.28" y="327.36" width="7.18" height="1.86" fill="#E68300"/>
<rect x="115.46" y="326.20" width="7.18" height="1.86" fill="#E68300"/>
<rect x="122.64" y="328.99" width="7.18" height="1.86" fill="#E68300"/>
<path d="M45.05 340.02L47.25 336.12L49.45 340.02Z"/>
<path d="M52.23 331.66L54.43 327.76L56.63 331.66Z"/>
<path d="M59.41 327.49L61.61 323.59L63.81 327.49Z"/>
<path d="M66.59 331.90L68.79 328.00L70.99 331.90Z"/>
<path d="M73.77 331.66L75.97 327.76L78.17 331.66Z"/>
<path d="M80.95 333.75L83.15 329.85L85.35 333.75Z"/>
<path d="M88.13 326.33L90.33 322.43L92.53 326.33Z"/>
<path d="M95.31 327.95L97.51 324.05L99.71 327.95Z"/>
<path d="M102.49 330.27L104.69 326.37L106.89 330.27Z"/>
<path d="M109.67 331.66L111.87 327.76L114.07 331.66Z"/>
<path d="M116.85 331.20L119.05 327.30L121.25 331.20Z"/>
<path d="M124.03 328.42L126.23 324.52L128.43 328.42Z"/>
<text x="86.70" y="300.63" font-size="9.5" text-anchor="middle" fill="#1a1a1a">Tambov</text>
<text x="36.70" y="311.28" font-size="9.2" text-anchor="end" fill="#1a1a1a">5</text>
<text x="36.70" y="326.78" font-size="9.2" text-anchor="end" fill="#1a1a1a">3</text>
<text x="36.70" y="342.28" font-size="9.2" text-anchor="end" fill="#1a1a1a">1</text>
<rect x="136.27" y="304.48" width="93.20" height="44.00" fill="#fff" stroke="#cbcbcb" stroke-width="1"/>
<rect x="139.83" y="333.86" width="7.18" height="6.26" fill="#E68300"/>
<rect x="147.01" y="323.42" width="7.18" height="6.50" fill="#E68300"/>
<rect x="154.19" y="309.50" width="7.18" height="12.53" fill="#E68300"/>
<rect x="161.37" y="323.42" width="7.18" height="14.39" fill="#E68300"/>
<rect x="168.55" y="326.20" width="7.18" height="6.96" fill="#E68300"/>
<rect x="175.73" y="321.56" width="7.18" height="6.03" fill="#E68300"/>
<rect x="182.91" y="323.42" width="7.18" height="4.18" fill="#E68300"/>
<rect x="190.09" y="326.20" width="7.18" height="6.50" fill="#E68300"/>
<rect x="197.27" y="318.78" width="7.18" height="5.10" fill="#E68300"/>
<rect x="204.45" y="322.03" width="7.18" height="5.10" fill="#E68300"/>
<rect x="211.63" y="319.71" width="7.18" height="5.57" fill="#E68300"/>
<rect x="218.81" y="321.10" width="7.18" height="10.67" fill="#E68300"/>
<path d="M141.22 331.20L143.42 327.30L145.62 331.20Z"/>
<path d="M148.40 323.78L150.60 319.88L152.80 323.78Z"/>
<path d="M155.58 314.73L157.78 310.83L159.98 314.73Z"/>
<path d="M162.76 331.66L164.96 327.76L167.16 331.66Z"/>
<path d="M169.94 332.59L172.14 328.69L174.34 332.59Z"/>
<path d="M177.12 327.49L179.32 323.59L181.52 327.49Z"/>
<path d="M184.30 319.37L186.50 315.47L188.70 319.37Z"/>
<path d="M191.48 324.01L193.68 320.11L195.88 324.01Z"/>
<path d="M198.66 323.78L200.86 319.88L203.06 323.78Z"/>
<path d="M205.84 328.18L208.04 324.28L210.24 328.18Z"/>
<path d="M213.02 327.72L215.22 323.82L217.42 327.72Z"/>
<path d="M220.20 327.26L222.40 323.36L224.60 327.26Z"/>
<text x="182.87" y="300.63" font-size="9.5" text-anchor="middle" fill="#1a1a1a">Tatarstan*</text>
<rect x="232.44" y="304.48" width="93.20" height="44.00" fill="#fff" stroke="#cbcbcb" stroke-width="1"/>
<rect x="236.00" y="330.84" width="7.18" height="1.39" fill="#E68300"/>
<rect x="243.18" y="329.68" width="7.18" height="1.62" fill="#E68300"/>
<rect x="250.36" y="327.59" width="7.18" height="1.62" fill="#E68300"/>
<rect x="257.54" y="330.84" width="7.18" height="1.86" fill="#E68300"/>
<rect x="264.72" y="330.84" width="7.18" height="1.62" fill="#E68300"/>
<rect x="271.90" y="329.22" width="7.18" height="1.62" fill="#E68300"/>
<rect x="279.08" y="328.99" width="7.18" height="1.62" fill="#E68300"/>
<rect x="286.26" y="326.90" width="7.18" height="1.62" fill="#E68300"/>
<rect x="293.44" y="328.99" width="7.18" height="1.86" fill="#E68300"/>
<rect x="300.62" y="326.67" width="7.18" height="1.86" fill="#E68300"/>
<rect x="307.80" y="328.52" width="7.18" height="1.62" fill="#E68300"/>
<rect x="314.98" y="327.83" width="7.18" height="1.62" fill="#E68300"/>
<path d="M237.39 335.84L239.59 331.94L241.79 335.84Z"/>
<path d="M244.57 333.98L246.77 330.08L248.97 333.98Z"/>
<path d="M251.75 329.81L253.95 325.91L256.15 329.81Z"/>
<path d="M258.93 334.22L261.13 330.32L263.33 334.22Z"/>
<path d="M266.11 332.36L268.31 328.46L270.51 332.36Z"/>
<path d="M273.29 332.82L275.49 328.92L277.69 332.82Z"/>
<path d="M280.47 330.27L282.67 326.37L284.87 330.27Z"/>
<path d="M287.65 326.56L289.85 322.66L292.05 326.56Z"/>
<path d="M294.83 332.59L297.03 328.69L299.23 332.59Z"/>
<path d="M302.01 330.04L304.21 326.14L306.41 330.04Z"/>
<path d="M309.19 329.81L311.39 325.91L313.59 329.81Z"/>
<path d="M316.37 329.81L318.57 325.91L320.77 329.81Z"/>
<text x="279.04" y="300.63" font-size="9.5" text-anchor="middle" fill="#1a1a1a">Tula</text>
<rect x="328.61" y="304.48" width="93.20" height="44.00" fill="#fff" stroke="#cbcbcb" stroke-width="1"/>
<rect x="332.17" y="336.64" width="7.18" height="1.39" fill="#E68300"/>
<rect x="339.35" y="335.71" width="7.18" height="1.39" fill="#E68300"/>
<rect x="346.53" y="333.63" width="7.18" height="1.62" fill="#E68300"/>
<rect x="353.71" y="335.95" width="7.18" height="1.39" fill="#E68300"/>
<rect x="360.89" y="336.64" width="7.18" height="1.62" fill="#E68300"/>
<rect x="368.07" y="335.02" width="7.18" height="1.62" fill="#E68300"/>
<rect x="375.25" y="333.86" width="7.18" height="1.62" fill="#E68300"/>
<rect x="382.43" y="333.86" width="7.18" height="1.62" fill="#E68300"/>
<rect x="389.61" y="334.79" width="7.18" height="1.39" fill="#E68300"/>
<rect x="396.79" y="338.27" width="7.18" height="1.39" fill="#E68300"/>
<rect x="403.97" y="336.64" width="7.18" height="1.39" fill="#E68300"/>
<rect x="411.15" y="334.55" width="7.18" height="1.62" fill="#E68300"/>
<path d="M333.56 338.39L335.76 334.49L337.96 338.39Z"/>
<path d="M340.74 337.70L342.94 333.80L345.14 337.70Z"/>
<path d="M347.92 334.91L350.12 331.01L352.32 334.91Z"/>
<path d="M355.10 340.25L357.30 336.35L359.50 340.25Z"/>
<path d="M362.28 340.02L364.48 336.12L366.68 340.02Z"/>
<path d="M369.46 339.09L371.66 335.19L373.86 339.09Z"/>
<path d="M376.64 335.14L378.84 331.24L381.04 335.14Z"/>
<path d="M383.82 335.61L386.02 331.71L388.22 335.61Z"/>
<path d="M391.00 335.84L393.20 331.94L395.40 335.84Z"/>
<path d="M398.18 339.32L400.38 335.42L402.58 339.32Z"/>
<path d="M405.36 339.09L407.56 335.19L409.76 339.09Z"/>
<path d="M412.54 338.16L414.74 334.26L416.94 338.16Z"/>
<text x="375.21" y="300.63" font-size="9.5" text-anchor="middle" fill="#1a1a1a">Udmurtia*</text>
<rect x="40.10" y="363.20" width="93.20" height="44.00" fill="#fff" stroke="#cbcbcb" stroke-width="1"/>
<line x1="37.70" x2="40.10" y1="366.80" y2="366.80" stroke="#9a9a9a" stroke-width="0.8"/>
<line x1="37.70" x2="40.10" y1="382.30" y2="382.30" stroke="#9a9a9a" stroke-width="0.8"/>
<line x1="37.70" x2="40.10" y1="397.80" y2="397.80" stroke="#9a9a9a" stroke-width="0.8"/>
<rect x="43.66" y="398.59" width="7.18" height="3.02" fill="#E68300"/>
<rect x="50.84" y="396.27" width="7.18" height="3.02" fill="#E68300"/>
<rect x="58.02" y="393.48" width="7.18" height="2.32" fill="#E68300"/>
<rect x="65.20" y="394.18" width="7.18" height="4.41" fill="#E68300"/>
<rect x="72.38" y="395.34" width="7.18" height="1.86" fill="#E68300"/>
<rect x="79.56" y="394.18" width="7.18" height="2.32" fill="#E68300"/>
<rect x="86.74" y="393.48" width="7.18" height="3.48" fill="#E68300"/>
<rect x="93.92" y="393.48" width="7.18" height="3.02" fill="#E68300"/>
<rect x="101.10" y="393.02" width="7.18" height="2.32" fill="#E68300"/>
<rect x="108.28" y="393.02" width="7.18" height="2.32" fill="#E68300"/>
<rect x="115.46" y="391.86" width="7.18" height="2.78" fill="#E68300"/>
<rect x="122.64" y="390.70" width="7.18" height="6.96" fill="#E68300"/>
<path d="M45.05 399.87L47.25 395.97L49.45 399.87Z"/>
<path d="M52.23 395.00L54.43 391.10L56.63 395.00Z"/>
<path d="M59.41 393.61L61.61 389.71L63.81 393.61Z"/>
<path d="M66.59 398.71L68.79 394.81L70.99 398.71Z"/>
<path d="M73.77 398.02L75.97 394.12L78.17 398.02Z"/>
<path d="M80.95 397.55L83.15 393.65L85.35 397.55Z"/>
<path d="M88.13 393.38L90.33 389.48L92.53 393.38Z"/>
<path d="M95.31 394.77L97.51 390.87L99.71 394.77Z"/>
<path d="M102.49 394.07L104.69 390.17L106.89 394.07Z"/>
<path d="M109.67 396.39L111.87 392.49L114.07 396.39Z"/>
<path d="M116.85 396.86L119.05 392.96L121.25 396.86Z"/>
<path d="M124.03 395.00L126.23 391.10L128.43 395.00Z"/>
<text x="86.70" y="359.35" font-size="9.5" text-anchor="middle" fill="#1a1a1a">Ulyanovsk*</text>
<text x="36.70" y="370.00" font-size="9.2" text-anchor="end" fill="#1a1a1a">5</text>
<text x="36.70" y="385.50" font-size="9.2" text-anchor="end" fill="#1a1a1a">3</text>
<text x="36.70" y="401.00" font-size="9.2" text-anchor="end" fill="#1a1a1a">1</text>
<line x1="47.25" x2="47.25" y1="407.20" y2="409.60" stroke="#9a9a9a" stroke-width="0.8"/>
<text x="47.25" y="417.20" font-size="9.2" text-anchor="middle" fill="#1a1a1a">1995</text>
<line x1="83.15" x2="83.15" y1="407.20" y2="409.60" stroke="#9a9a9a" stroke-width="0.8"/>
<text x="83.15" y="417.20" font-size="9.2" text-anchor="middle" fill="#1a1a1a">2000</text>
<line x1="119.05" x2="119.05" y1="407.20" y2="409.60" stroke="#9a9a9a" stroke-width="0.8"/>
<text x="119.05" y="417.20" font-size="9.2" text-anchor="middle" fill="#1a1a1a">2005</text>
<rect x="136.27" y="363.20" width="93.20" height="44.00" fill="#fff" stroke="#cbcbcb" stroke-width="1"/>
<rect x="139.83" y="399.98" width="7.18" height="1.86" fill="#E68300"/>
<rect x="147.01" y="398.59" width="7.18" height="3.71" fill="#E68300"/>
<rect x="154.19" y="395.34" width="7.18" height="4.64" fill="#E68300"/>
<rect x="161.37" y="401.60" width="7.18" height="1.86" fill="#E68300"/>
<rect x="168.55" y="398.12" width="7.18" height="2.78" fill="#E68300"/>
<rect x="175.73" y="394.18" width="7.18" height="3.48" fill="#E68300"/>
<rect x="182.91" y="396.27" width="7.18" height="1.86" fill="#E68300"/>
<rect x="190.09" y="396.27" width="7.18" height="3.02" fill="#E68300"/>
<rect x="197.27" y="393.48" width="7.18" height="2.78" fill="#E68300"/>
<rect x="204.45" y="396.96" width="7.18" height="2.32" fill="#E68300"/>
<rect x="211.63" y="395.80" width="7.18" height="2.32" fill="#E68300"/>
<rect x="218.81" y="395.80" width="7.18" height="5.10" fill="#E68300"/>
<path d="M141.22 402.89L143.42 398.99L145.62 402.89Z"/>
<path d="M148.40 403.12L150.60 399.22L152.80 403.12Z"/>
<path d="M155.58 398.02L157.78 394.12L159.98 398.02Z"/>
<path d="M162.76 404.05L164.96 400.15L167.16 404.05Z"/>
<path d="M169.94 402.19L172.14 398.29L174.34 402.19Z"/>
<path d="M177.12 399.87L179.32 395.97L181.52 399.87Z"/>
<path d="M184.30 399.18L186.50 395.28L188.70 399.18Z"/>
<path d="M191.48 399.18L193.68 395.28L195.88 399.18Z"/>
<path d="M198.66 394.07L200.86 390.17L203.06 394.07Z"/>
<path d="M205.84 399.41L208.04 395.51L210.24 399.41Z"/>
<path d="M213.02 398.94L215.22 395.04L217.42 398.94Z"/>
<path d="M220.20 398.71L222.40 394.81L224.60 398.71Z"/>
<text x="182.87" y="359.35" font-size="9.5" text-anchor="middle" fill="#1a1a1a">Volgograd*</text>
<line x1="143.42" x2="143.42" y1="407.20" y2="409.60" stroke="#9a9a9a" stroke-width="0.8"/>
<text x="143.42" y="417.20" font-size="9.2" text-anchor="middle" fill="#1a1a1a">1995</text>
<line x1="179.32" x2="179.32" y1="407.20" y2="409.60" stroke="#9a9a9a" stroke-width="0.8"/>
<text x="179.32" y="417.20" font-size="9.2" text-anchor="middle" fill="#1a1a1a">2000</text>
<line x1="215.22" x2="215.22" y1="407.20" y2="409.60" stroke="#9a9a9a" stroke-width="0.8"/>
<text x="215.22" y="417.20" font-size="9.2" text-anchor="middle" fill="#1a1a1a">2005</text>
<rect x="232.44" y="363.20" width="93.20" height="44.00" fill="#fff" stroke="#cbcbcb" stroke-width="1"/>
<rect x="236.00" y="397.66" width="7.18" height="1.62" fill="#E68300"/>
<rect x="243.18" y="393.95" width="7.18" height="1.86" fill="#E68300"/>
<rect x="250.36" y="395.80" width="7.18" height="1.86" fill="#E68300"/>
<rect x="257.54" y="395.80" width="7.18" height="2.32" fill="#E68300"/>
<rect x="264.72" y="396.73" width="7.18" height="1.86" fill="#E68300"/>
<rect x="271.90" y="393.02" width="7.18" height="2.78" fill="#E68300"/>
<rect x="279.08" y="390.00" width="7.18" height="3.48" fill="#E68300"/>
<rect x="286.26" y="392.32" width="7.18" height="8.12" fill="#E68300"/>
<rect x="293.44" y="391.63" width="7.18" height="3.71" fill="#E68300"/>
<rect x="300.62" y="393.48" width="7.18" height="2.78" fill="#E68300"/>
<rect x="307.80" y="393.95" width="7.18" height="3.25" fill="#E68300"/>
<rect x="314.98" y="390.47" width="7.18" height="9.28" fill="#E68300"/>
<path d="M237.39 399.18L239.59 395.28L241.79 399.18Z"/>
<path d="M244.57 395.93L246.77 392.03L248.97 395.93Z"/>
<path d="M251.75 398.02L253.95 394.12L256.15 398.02Z"/>
<path d="M258.93 399.18L261.13 395.28L263.33 399.18Z"/>
<path d="M266.11 399.64L268.31 395.74L270.51 399.64Z"/>
<path d="M273.29 397.09L275.49 393.19L277.69 397.09Z"/>
<path d="M280.47 394.54L282.67 390.64L284.87 394.54Z"/>
<path d="M287.65 395.93L289.85 392.03L292.05 395.93Z"/>
<path d="M294.83 394.77L297.03 390.87L299.23 394.77Z"/>
<path d="M302.01 396.39L304.21 392.49L306.41 396.39Z"/>
<path d="M309.19 397.09L311.39 393.19L313.59 397.09Z"/>
<path d="M316.37 392.91L318.57 389.01L320.77 392.91Z"/>
<text x="279.04" y="359.35" font-size="9.5" text-anchor="middle" fill="#1a1a1a">Vologda*</text>
<line x1="239.59" x2="239.59" y1="407.20" y2="409.60" stroke="#9a9a9a" stroke-width="0.8"/>
<text x="239.59" y="417.20" font-size="9.2" text-anchor="middle" fill="#1a1a1a">1995</text>
<line x1="275.49" x2="275.49" y1="407.20" y2="409.60" stroke="#9a9a9a" stroke-width="0.8"/>
<text x="275.49" y="417.20" font-size="9.2" text-anchor="middle" fill="#1a1a1a">2000</text>
<line x1="311.39" x2="311.39" y1="407.20" y2="409.60" stroke="#9a9a9a" stroke-width="0.8"/>
<text x="311.39" y="417.20" font-size="9.2" text-anchor="middle" fill="#1a1a1a">2005</text>
<rect x="328.61" y="363.20" width="93.20" height="44.00" fill="#fff" stroke="#cbcbcb" stroke-width="1"/>
<rect x="332.17" y="388.15" width="7.18" height="3.71" fill="#E68300"/>
<rect x="339.35" y="387.22" width="7.18" height="2.78" fill="#E68300"/>
<rect x="346.53" y="384.20" width="7.18" height="3.48" fill="#E68300"/>
<rect x="353.71" y="388.84" width="7.18" height="2.32" fill="#E68300"/>
<rect x="360.89" y="386.99" width="7.18" height="3.02" fill="#E68300"/>
<rect x="368.07" y="383.74" width="7.18" height="3.25" fill="#E68300"/>
<rect x="375.25" y="383.04" width="7.18" height="3.48" fill="#E68300"/>
<rect x="382.43" y="384.20" width="7.18" height="3.48" fill="#E68300"/>
<rect x="389.61" y="384.20" width="7.18" height="2.78" fill="#E68300"/>
<rect x="396.79" y="384.20" width="7.18" height="2.78" fill="#E68300"/>
<rect x="403.97" y="383.74" width="7.18" height="2.78" fill="#E68300"/>
<rect x="411.15" y="384.20" width="7.18" height="3.94" fill="#E68300"/>
<path d="M333.56 393.61L335.76 389.71L337.96 393.61Z"/>
<path d="M340.74 390.59L342.94 386.69L345.14 390.59Z"/>
<path d="M347.92 386.65L350.12 382.75L352.32 386.65Z"/>
<path d="M355.10 391.75L357.30 387.85L359.50 391.75Z"/>
<path d="M362.28 390.82L364.48 386.92L366.68 390.82Z"/>
<path d="M369.46 391.29L371.66 387.39L373.86 391.29Z"/>
<path d="M376.64 383.17L378.84 379.27L381.04 383.17Z"/>
<path d="M383.82 384.10L386.02 380.20L388.22 384.10Z"/>
<path d="M391.00 388.97L393.20 385.07L395.40 388.97Z"/>
<path d="M398.18 387.81L400.38 383.91L402.58 387.81Z"/>
<path d="M405.36 386.88L407.56 382.98L409.76 386.88Z"/>
<path d="M412.54 391.06L414.74 387.16L416.94 391.06Z"/>
<text x="375.21" y="359.35" font-size="9.5" text-anchor="middle" fill="#1a1a1a">Voronezh</text>
<line x1="335.76" x2="335.76" y1="407.20" y2="409.60" stroke="#9a9a9a" stroke-width="0.8"/>
<text x="335.76" y="417.20" font-size="9.2" text-anchor="middle" fill="#1a1a1a">1995</text>
<line x1="371.66" x2="371.66" y1="407.20" y2="409.60" stroke="#9a9a9a" stroke-width="0.8"/>
<text x="371.66" y="417.20" font-size="9.2" text-anchor="middle" fill="#1a1a1a">2000</text>
<line x1="407.56" x2="407.56" y1="407.20" y2="409.60" stroke="#9a9a9a" stroke-width="0.8"/>
<text x="407.56" y="417.20" font-size="9.2" text-anchor="middle" fill="#1a1a1a">2005</text>
<rect x="38.90" y="489.50" width="93.40" height="44.30" fill="#fff" stroke="#cbcbcb" stroke-width="1"/>
<line x1="36.50" x2="38.90" y1="493.25" y2="493.25" stroke="#9a9a9a" stroke-width="0.8"/>
<line x1="36.50" x2="38.90" y1="509.01" y2="509.01" stroke="#9a9a9a" stroke-width="0.8"/>
<line x1="36.50" x2="38.90" y1="524.77" y2="524.77" stroke="#9a9a9a" stroke-width="0.8"/>
<rect x="42.60" y="520.95" width="21.50" height="1.86" fill="#E68300"/>
<rect x="64.10" y="520.71" width="21.50" height="2.09" fill="#E68300"/>
<rect x="85.60" y="519.79" width="21.50" height="2.09" fill="#E68300"/>
<rect x="107.10" y="521.18" width="21.50" height="6.26" fill="#E68300"/>
<path d="M51.15 525.94L53.35 522.04L55.55 525.94Z"/>
<path d="M72.65 520.61L74.85 516.71L77.05 520.61Z"/>
<path d="M94.15 521.77L96.35 517.87L98.55 521.77Z"/>
<path d="M115.65 523.39L117.85 519.49L120.05 523.39Z"/>
<text x="85.60" y="485.60" font-size="9.5" text-anchor="middle" fill="#1a1a1a">Bashkortostan*</text>
<text x="35.60" y="496.15" font-size="8.5" text-anchor="end" fill="#1a1a1a">5</text>
<text x="35.60" y="511.91" font-size="8.5" text-anchor="end" fill="#1a1a1a">3</text>
<text x="35.60" y="527.67" font-size="8.5" text-anchor="end" fill="#1a1a1a">1</text>
<rect x="135.13" y="489.50" width="93.40" height="44.30" fill="#fff" stroke="#cbcbcb" stroke-width="1"/>
<rect x="138.83" y="507.82" width="21.50" height="1.20" fill="#E68300"/>
<rect x="160.33" y="508.88" width="21.50" height="2.78" fill="#E68300"/>
<rect x="181.83" y="504.71" width="21.50" height="3.25" fill="#E68300"/>
<rect x="203.33" y="506.10" width="21.50" height="3.25" fill="#E68300"/>
<path d="M147.38 513.18L149.58 509.28L151.78 513.18Z"/>
<path d="M168.88 510.63L171.08 506.73L173.28 510.63Z"/>
<path d="M190.38 505.30L192.58 501.40L194.78 505.30Z"/>
<path d="M211.88 509.47L214.08 505.57L216.28 509.47Z"/>
<text x="181.83" y="485.60" font-size="9.5" text-anchor="middle" fill="#1a1a1a">Belgorod</text>
<rect x="231.36" y="489.50" width="93.40" height="44.30" fill="#fff" stroke="#cbcbcb" stroke-width="1"/>
<rect x="235.06" y="517.23" width="21.50" height="2.78" fill="#E68300"/>
<rect x="256.56" y="514.91" width="21.50" height="2.78" fill="#E68300"/>
<rect x="278.06" y="516.07" width="21.50" height="2.55" fill="#E68300"/>
<rect x="299.56" y="517.70" width="21.50" height="1.39" fill="#E68300"/>
<path d="M243.61 521.54L245.81 517.64L248.01 521.54Z"/>
<path d="M265.11 514.11L267.31 510.21L269.51 514.11Z"/>
<path d="M286.61 517.82L288.81 513.92L291.01 517.82Z"/>
<path d="M308.11 521.30L310.31 517.40L312.51 521.30Z"/>
<text x="278.06" y="485.60" font-size="9.5" text-anchor="middle" fill="#1a1a1a">Bryansk</text>
<rect x="327.59" y="489.50" width="93.40" height="44.30" fill="#fff" stroke="#cbcbcb" stroke-width="1"/>
<rect x="331.29" y="515.84" width="21.50" height="1.86" fill="#E68300"/>
<rect x="352.79" y="511.90" width="21.50" height="6.50" fill="#E68300"/>
<rect x="374.29" y="515.38" width="21.50" height="2.09" fill="#E68300"/>
<rect x="395.79" y="513.06" width="21.50" height="6.03" fill="#E68300"/>
<path d="M339.84 519.45L342.04 515.55L344.24 519.45Z"/>
<path d="M361.34 512.95L363.54 509.05L365.74 512.95Z"/>
<path d="M382.84 516.90L385.04 513.00L387.24 516.90Z"/>
<path d="M404.34 514.58L406.54 510.68L408.74 514.58Z"/>
<text x="374.29" y="485.60" font-size="9.5" text-anchor="middle" fill="#1a1a1a">Chuvash*</text>
<rect x="38.90" y="548.20" width="93.40" height="44.30" fill="#fff" stroke="#cbcbcb" stroke-width="1"/>
<line x1="36.50" x2="38.90" y1="551.95" y2="551.95" stroke="#9a9a9a" stroke-width="0.8"/>
<line x1="36.50" x2="38.90" y1="567.71" y2="567.71" stroke="#9a9a9a" stroke-width="0.8"/>
<line x1="36.50" x2="38.90" y1="583.47" y2="583.47" stroke="#9a9a9a" stroke-width="0.8"/>
<rect x="42.60" y="579.87" width="21.50" height="3.94" fill="#E68300"/>
<rect x="64.10" y="579.87" width="21.50" height="3.94" fill="#E68300"/>
<rect x="85.60" y="579.87" width="21.50" height="3.71" fill="#E68300"/>
<rect x="107.10" y="579.64" width="21.50" height="3.94" fill="#E68300"/>
<path d="M51.15 582.55L53.35 578.65L55.55 582.55Z"/>
<path d="M72.65 581.62L74.85 577.72L77.05 581.62Z"/>
<path d="M94.15 583.02L96.35 579.12L98.55 583.02Z"/>
<path d="M115.65 583.02L117.85 579.12L120.05 583.02Z"/>
<text x="85.60" y="544.30" font-size="9.5" text-anchor="middle" fill="#1a1a1a">Kirov*</text>
<text x="35.60" y="554.85" font-size="8.5" text-anchor="end" fill="#1a1a1a">5</text>
<text x="35.60" y="570.61" font-size="8.5" text-anchor="end" fill="#1a1a1a">3</text>
<text x="35.60" y="586.37" font-size="8.5" text-anchor="end" fill="#1a1a1a">1</text>
<rect x="135.13" y="548.20" width="93.40" height="44.30" fill="#fff" stroke="#cbcbcb" stroke-width="1"/>
<rect x="138.83" y="558.76" width="21.50" height="2.55" fill="#E68300"/>
<rect x="160.33" y="559.46" width="21.50" height="3.02" fill="#E68300"/>
<rect x="181.83" y="558.30" width="21.50" height="3.02" fill="#E68300"/>
<rect x="203.33" y="560.85" width="21.50" height="3.02" fill="#E68300"/>
<path d="M147.38 558.65L149.58 554.75L151.78 558.65Z"/>
<path d="M168.88 562.14L171.08 558.24L173.28 562.14Z"/>
<path d="M190.38 560.28L192.58 556.38L194.78 560.28Z"/>
<path d="M211.88 564.69L214.08 560.79L216.28 564.69Z"/>
<text x="181.83" y="544.30" font-size="9.5" text-anchor="middle" fill="#1a1a1a">Krasnodar</text>
<rect x="231.36" y="548.20" width="93.40" height="44.30" fill="#fff" stroke="#cbcbcb" stroke-width="1"/>
<rect x="235.06" y="572.22" width="21.50" height="2.55" fill="#E68300"/>
<rect x="256.56" y="571.06" width="21.50" height="2.78" fill="#E68300"/>
<rect x="278.06" y="570.36" width="21.50" height="3.02" fill="#E68300"/>
<rect x="299.56" y="573.15" width="21.50" height="2.55" fill="#E68300"/>
<path d="M243.61 574.43L245.81 570.53L248.01 574.43Z"/>
<path d="M265.11 571.42L267.31 567.52L269.51 571.42Z"/>
<path d="M286.61 570.02L288.81 566.12L291.01 570.02Z"/>
<path d="M308.11 575.36L310.31 571.46L312.51 575.36Z"/>
<text x="278.06" y="544.30" font-size="9.5" text-anchor="middle" fill="#1a1a1a">Kursk</text>
<rect x="327.59" y="548.20" width="93.40" height="44.30" fill="#fff" stroke="#cbcbcb" stroke-width="1"/>
<rect x="331.29" y="568.04" width="21.50" height="2.55" fill="#E68300"/>
<rect x="352.79" y="570.13" width="21.50" height="3.48" fill="#E68300"/>
<rect x="374.29" y="568.04" width="21.50" height="2.55" fill="#E68300"/>
<rect x="395.79" y="569.20" width="21.50" height="2.78" fill="#E68300"/>
<path d="M339.84 568.40L342.04 564.50L344.24 568.40Z"/>
<path d="M361.34 572.34L363.54 568.44L365.74 572.34Z"/>
<path d="M382.84 571.18L385.04 567.28L387.24 571.18Z"/>
<path d="M404.34 571.65L406.54 567.75L408.74 571.65Z"/>
<text x="374.29" y="544.30" font-size="9.5" text-anchor="middle" fill="#1a1a1a">Lipetsk</text>
<rect x="38.90" y="606.90" width="93.40" height="44.30" fill="#fff" stroke="#cbcbcb" stroke-width="1"/>
<line x1="36.50" x2="38.90" y1="610.65" y2="610.65" stroke="#9a9a9a" stroke-width="0.8"/>
<line x1="36.50" x2="38.90" y1="626.41" y2="626.41" stroke="#9a9a9a" stroke-width="0.8"/>
<line x1="36.50" x2="38.90" y1="642.17" y2="642.17" stroke="#9a9a9a" stroke-width="0.8"/>
<rect x="42.60" y="636.55" width="21.50" height="2.09" fill="#E68300"/>
<rect x="64.10" y="637.48" width="21.50" height="3.94" fill="#E68300"/>
<rect x="85.60" y="636.55" width="21.50" height="2.09" fill="#E68300"/>
<rect x="107.10" y="636.79" width="21.50" height="3.94" fill="#E68300"/>
<path d="M51.15 638.77L53.35 634.87L55.55 638.77Z"/>
<path d="M72.65 640.16L74.85 636.26L77.05 640.16Z"/>
<path d="M94.15 637.38L96.35 633.48L98.55 637.38Z"/>
<path d="M115.65 636.68L117.85 632.78L120.05 636.68Z"/>
<text x="85.60" y="603.00" font-size="9.5" text-anchor="middle" fill="#1a1a1a">Mari El*</text>
<text x="35.60" y="613.55" font-size="8.5" text-anchor="end" fill="#1a1a1a">5</text>
<text x="35.60" y="629.31" font-size="8.5" text-anchor="end" fill="#1a1a1a">3</text>
<text x="35.60" y="645.07" font-size="8.5" text-anchor="end" fill="#1a1a1a">1</text>
<rect x="135.13" y="606.90" width="93.40" height="44.30" fill="#fff" stroke="#cbcbcb" stroke-width="1"/>
<rect x="138.83" y="639.80" width="21.50" height="3.02" fill="#E68300"/>
<rect x="160.33" y="636.09" width="21.50" height="1.86" fill="#E68300"/>
<rect x="181.83" y="638.41" width="21.50" height="3.25" fill="#E68300"/>
<rect x="203.33" y="636.79" width="21.50" height="2.78" fill="#E68300"/>
<path d="M147.38 643.18L149.58 639.28L151.78 643.18Z"/>
<path d="M168.88 638.07L171.08 634.17L173.28 638.07Z"/>
<path d="M190.38 641.55L192.58 637.65L194.78 641.55Z"/>
<path d="M211.88 638.07L214.08 634.17L216.28 638.07Z"/>
<text x="181.83" y="603.00" font-size="9.5" text-anchor="middle" fill="#1a1a1a">Mordovia*</text>
<rect x="231.36" y="606.90" width="93.40" height="44.30" fill="#fff" stroke="#cbcbcb" stroke-width="1"/>
<rect x="235.06" y="628.67" width="21.50" height="3.94" fill="#E68300"/>
<rect x="256.56" y="629.34" width="21.50" height="1.20" fill="#E68300"/>
<rect x="278.06" y="632.15" width="21.50" height="5.34" fill="#E68300"/>
<rect x="299.56" y="632.38" width="21.50" height="3.25" fill="#E68300"/>
<path d="M243.61 633.43L245.81 629.53L248.01 633.43Z"/>
<path d="M265.11 629.02L267.31 625.12L269.51 629.02Z"/>
<path d="M286.61 638.77L288.81 634.87L291.01 638.77Z"/>
<path d="M308.11 633.90L310.31 630.00L312.51 633.90Z"/>
<text x="278.06" y="603.00" font-size="9.5" text-anchor="middle" fill="#1a1a1a">Moscow</text>
<rect x="327.59" y="606.90" width="93.40" height="44.30" fill="#fff" stroke="#cbcbcb" stroke-width="1"/>
<rect x="331.29" y="638.18" width="21.50" height="3.94" fill="#E68300"/>
<rect x="352.79" y="634.70" width="21.50" height="2.78" fill="#E68300"/>
<rect x="374.29" y="637.02" width="21.50" height="3.94" fill="#E68300"/>
<rect x="395.79" y="635.63" width="21.50" height="1.86" fill="#E68300"/>
<path d="M339.84 640.86L342.04 636.96L344.24 640.86Z"/>
<path d="M361.34 636.45L363.54 632.55L365.74 636.45Z"/>
<path d="M382.84 640.62L385.04 636.72L387.24 640.62Z"/>
<path d="M404.34 637.84L406.54 633.94L408.74 637.84Z"/>
<text x="374.29" y="603.00" font-size="9.5" text-anchor="middle" fill="#1a1a1a">Nizhny*</text>
<rect x="38.90" y="665.60" width="93.40" height="44.30" fill="#fff" stroke="#cbcbcb" stroke-width="1"/>
<line x1="36.50" x2="38.90" y1="669.35" y2="669.35" stroke="#9a9a9a" stroke-width="0.8"/>
<line x1="36.50" x2="38.90" y1="685.11" y2="685.11" stroke="#9a9a9a" stroke-width="0.8"/>
<line x1="36.50" x2="38.90" y1="700.87" y2="700.87" stroke="#9a9a9a" stroke-width="0.8"/>
<rect x="42.60" y="686.04" width="21.50" height="3.94" fill="#E68300"/>
<rect x="64.10" y="686.51" width="21.50" height="2.55" fill="#E68300"/>
<rect x="85.60" y="687.20" width="21.50" height="3.48" fill="#E68300"/>
<rect x="107.10" y="689.52" width="21.50" height="4.18" fill="#E68300"/>
<path d="M51.15 689.88L53.35 685.98L55.55 689.88Z"/>
<path d="M72.65 688.26L74.85 684.36L77.05 688.26Z"/>
<path d="M94.15 691.27L96.35 687.37L98.55 691.27Z"/>
<path d="M115.65 695.91L117.85 692.01L120.05 695.91Z"/>
<text x="85.60" y="661.70" font-size="9.5" text-anchor="middle" fill="#1a1a1a">Oryol</text>
<text x="35.60" y="672.25" font-size="8.5" text-anchor="end" fill="#1a1a1a">5</text>
<text x="35.60" y="688.01" font-size="8.5" text-anchor="end" fill="#1a1a1a">3</text>
<text x="35.60" y="703.77" font-size="8.5" text-anchor="end" fill="#1a1a1a">1</text>
<rect x="135.13" y="665.60" width="93.40" height="44.30" fill="#fff" stroke="#cbcbcb" stroke-width="1"/>
<rect x="138.83" y="701.12" width="21.50" height="3.25" fill="#E68300"/>
<rect x="160.33" y="698.11" width="21.50" height="1.86" fill="#E68300"/>
<rect x="181.83" y="698.34" width="21.50" height="1.86" fill="#E68300"/>
<rect x="203.33" y="698.80" width="21.50" height="4.64" fill="#E68300"/>
<path d="M147.38 702.87L149.58 698.97L151.78 702.87Z"/>
<path d="M168.88 700.55L171.08 696.65L173.28 700.55Z"/>
<path d="M190.38 704.73L192.58 700.83L194.78 704.73Z"/>
<path d="M211.88 699.86L214.08 695.96L216.28 699.86Z"/>
<text x="181.83" y="661.70" font-size="9.5" text-anchor="middle" fill="#1a1a1a">Penza*</text>
<rect x="231.36" y="665.60" width="93.40" height="44.30" fill="#fff" stroke="#cbcbcb" stroke-width="1"/>
<rect x="235.06" y="701.82" width="21.50" height="1.39" fill="#E68300"/>
<rect x="256.56" y="701.35" width="21.50" height="1.39" fill="#E68300"/>
<rect x="278.06" y="700.66" width="21.50" height="2.32" fill="#E68300"/>
<rect x="299.56" y="700.66" width="21.50" height="1.39" fill="#E68300"/>
<path d="M243.61 703.34L245.81 699.44L248.01 703.34Z"/>
<path d="M265.11 702.64L267.31 698.74L269.51 702.64Z"/>
<path d="M286.61 701.25L288.81 697.35L291.01 701.25Z"/>
<path d="M308.11 702.18L310.31 698.28L312.51 702.18Z"/>
<text x="278.06" y="661.70" font-size="9.5" text-anchor="middle" fill="#1a1a1a">Perm*</text>
<rect x="327.59" y="665.60" width="93.40" height="44.30" fill="#fff" stroke="#cbcbcb" stroke-width="1"/>
<rect x="331.29" y="684.88" width="21.50" height="2.78" fill="#E68300"/>
<rect x="352.79" y="684.88" width="21.50" height="2.78" fill="#E68300"/>
<rect x="374.29" y="684.42" width="21.50" height="3.25" fill="#E68300"/>
<rect x="395.79" y="686.97" width="21.50" height="3.48" fill="#E68300"/>
<path d="M339.84 687.10L342.04 683.20L344.24 687.10Z"/>
<path d="M361.34 685.94L363.54 682.04L365.74 685.94Z"/>
<path d="M382.84 687.10L385.04 683.20L387.24 687.10Z"/>
<path d="M404.34 690.34L406.54 686.44L408.74 690.34Z"/>
<text x="374.29" y="661.70" font-size="9.5" text-anchor="middle" fill="#1a1a1a">Rostov</text>
<rect x="38.90" y="724.30" width="93.40" height="44.30" fill="#fff" stroke="#cbcbcb" stroke-width="1"/>
<line x1="36.50" x2="38.90" y1="728.05" y2="728.05" stroke="#9a9a9a" stroke-width="0.8"/>
<line x1="36.50" x2="38.90" y1="743.81" y2="743.81" stroke="#9a9a9a" stroke-width="0.8"/>
<line x1="36.50" x2="38.90" y1="759.57" y2="759.57" stroke="#9a9a9a" stroke-width="0.8"/>
<rect x="42.60" y="747.52" width="21.50" height="1.62" fill="#E68300"/>
<rect x="64.10" y="749.84" width="21.50" height="2.78" fill="#E68300"/>
<rect x="85.60" y="751.23" width="21.50" height="2.78" fill="#E68300"/>
<rect x="107.10" y="750.07" width="21.50" height="2.55" fill="#E68300"/>
<path d="M51.15 748.34L53.35 744.44L55.55 748.34Z"/>
<path d="M72.65 753.22L74.85 749.32L77.05 753.22Z"/>
<path d="M94.15 757.16L96.35 753.26L98.55 757.16Z"/>
<path d="M115.65 752.75L117.85 748.85L120.05 752.75Z"/>
<text x="85.60" y="720.40" font-size="9.5" text-anchor="middle" fill="#1a1a1a">Ryazan</text>
<text x="35.60" y="730.95" font-size="8.5" text-anchor="end" fill="#1a1a1a">5</text>
<text x="35.60" y="746.71" font-size="8.5" text-anchor="end" fill="#1a1a1a">3</text>
<text x="35.60" y="762.47" font-size="8.5" text-anchor="end" fill="#1a1a1a">1</text>
<rect x="135.13" y="724.30" width="93.40" height="44.30" fill="#fff" stroke="#cbcbcb" stroke-width="1"/>
<rect x="138.83" y="759.10" width="21.50" height="1.20" fill="#E68300"/>
<rect x="160.33" y="755.18" width="21.50" height="3.48" fill="#E68300"/>
<rect x="181.83" y="757.96" width="21.50" height="1.62" fill="#E68300"/>
<rect x="203.33" y="758.66" width="21.50" height="1.39" fill="#E68300"/>
<path d="M147.38 760.87L149.58 756.97L151.78 760.87Z"/>
<path d="M168.88 757.62L171.08 753.72L173.28 757.62Z"/>
<path d="M190.38 760.87L192.58 756.97L194.78 760.87Z"/>
<path d="M211.88 761.34L214.08 757.44L216.28 761.34Z"/>
<text x="181.83" y="720.40" font-size="9.5" text-anchor="middle" fill="#1a1a1a">Samara*</text>
<rect x="231.36" y="724.30" width="93.40" height="44.30" fill="#fff" stroke="#cbcbcb" stroke-width="1"/>
<rect x="235.06" y="762.60" width="21.50" height="2.09" fill="#E68300"/>
<rect x="256.56" y="763.07" width="21.50" height="2.09" fill="#E68300"/>
<rect x="278.06" y="761.21" width="21.50" height="1.86" fill="#E68300"/>
<rect x="299.56" y="761.91" width="21.50" height="1.86" fill="#E68300"/>
<path d="M243.61 765.75L245.81 761.85L248.01 765.75Z"/>
<path d="M265.11 762.27L267.31 758.37L269.51 762.27Z"/>
<path d="M286.61 763.89L288.81 759.99L291.01 763.89Z"/>
<path d="M308.11 764.12L310.31 760.22L312.51 764.12Z"/>
<text x="278.06" y="720.40" font-size="9.5" text-anchor="middle" fill="#1a1a1a">Saratov*</text>
<rect x="327.59" y="724.30" width="93.40" height="44.30" fill="#fff" stroke="#cbcbcb" stroke-width="1"/>
<rect x="331.29" y="743.11" width="21.50" height="2.78" fill="#E68300"/>
<rect x="352.79" y="744.97" width="21.50" height="2.55" fill="#E68300"/>
<rect x="374.29" y="743.81" width="21.50" height="2.78" fill="#E68300"/>
<rect x="395.79" y="749.61" width="21.50" height="1.39" fill="#E68300"/>
<path d="M339.84 744.86L342.04 740.96L344.24 744.86Z"/>
<path d="M361.34 746.26L363.54 742.36L365.74 746.26Z"/>
<path d="M382.84 743.94L385.04 740.04L387.24 743.94Z"/>
<path d="M404.34 749.74L406.54 745.84L408.74 749.74Z"/>
<text x="374.29" y="720.40" font-size="9.5" text-anchor="middle" fill="#1a1a1a">Stravropol</text>
<rect x="38.90" y="783.00" width="93.40" height="44.30" fill="#fff" stroke="#cbcbcb" stroke-width="1"/>
<line x1="36.50" x2="38.90" y1="786.75" y2="786.75" stroke="#9a9a9a" stroke-width="0.8"/>
<line x1="36.50" x2="38.90" y1="802.51" y2="802.51" stroke="#9a9a9a" stroke-width="0.8"/>
<line x1="36.50" x2="38.90" y1="818.27" y2="818.27" stroke="#9a9a9a" stroke-width="0.8"/>
<rect x="42.60" y="806.29" width="21.50" height="1.62" fill="#E68300"/>
<rect x="64.10" y="808.15" width="21.50" height="1.86" fill="#E68300"/>
<rect x="85.60" y="805.59" width="21.50" height="3.25" fill="#E68300"/>
<rect x="107.10" y="805.83" width="21.50" height="3.02" fill="#E68300"/>
<path d="M51.15 806.18L53.35 802.28L55.55 806.18Z"/>
<path d="M72.65 809.20L74.85 805.30L77.05 809.20Z"/>
<path d="M94.15 810.13L96.35 806.23L98.55 810.13Z"/>
<path d="M115.65 808.50L117.85 804.60L120.05 808.50Z"/>
<text x="85.60" y="779.10" font-size="9.5" text-anchor="middle" fill="#1a1a1a">Tambov</text>
<text x="35.60" y="789.65" font-size="8.5" text-anchor="end" fill="#1a1a1a">5</text>
<text x="35.60" y="805.41" font-size="8.5" text-anchor="end" fill="#1a1a1a">3</text>
<text x="35.60" y="821.17" font-size="8.5" text-anchor="end" fill="#1a1a1a">1</text>
<rect x="135.13" y="783.00" width="93.40" height="44.30" fill="#fff" stroke="#cbcbcb" stroke-width="1"/>
<rect x="138.83" y="808.84" width="21.50" height="4.18" fill="#E68300"/>
<rect x="160.33" y="809.54" width="21.50" height="7.42" fill="#E68300"/>
<rect x="181.83" y="804.90" width="21.50" height="6.73" fill="#E68300"/>
<rect x="203.33" y="805.36" width="21.50" height="3.48" fill="#E68300"/>
<path d="M147.38 817.78L149.58 813.88L151.78 817.78Z"/>
<path d="M168.88 811.98L171.08 808.08L173.28 811.98Z"/>
<path d="M190.38 811.52L192.58 807.62L194.78 811.52Z"/>
<path d="M211.88 808.50L214.08 804.60L216.28 808.50Z"/>
<text x="181.83" y="779.10" font-size="9.5" text-anchor="middle" fill="#1a1a1a">Tatarstan*</text>
<rect x="231.36" y="783.00" width="93.40" height="44.30" fill="#fff" stroke="#cbcbcb" stroke-width="1"/>
<rect x="235.06" y="805.13" width="21.50" height="2.78" fill="#E68300"/>
<rect x="256.56" y="806.52" width="21.50" height="2.32" fill="#E68300"/>
<rect x="278.06" y="808.15" width="21.50" height="3.48" fill="#E68300"/>
<rect x="299.56" y="808.84" width="21.50" height="1.62" fill="#E68300"/>
<path d="M243.61 805.95L245.81 802.05L248.01 805.95Z"/>
<path d="M265.11 808.50L267.31 804.60L269.51 808.50Z"/>
<path d="M286.61 814.07L288.81 810.17L291.01 814.07Z"/>
<path d="M308.11 809.90L310.31 806.00L312.51 809.90Z"/>
<text x="278.06" y="779.10" font-size="9.5" text-anchor="middle" fill="#1a1a1a">Tula</text>
<rect x="327.59" y="783.00" width="93.40" height="44.30" fill="#fff" stroke="#cbcbcb" stroke-width="1"/>
<rect x="331.29" y="814.64" width="21.50" height="1.62" fill="#E68300"/>
<rect x="352.79" y="814.87" width="21.50" height="1.86" fill="#E68300"/>
<rect x="374.29" y="813.71" width="21.50" height="1.62" fill="#E68300"/>
<rect x="395.79" y="813.71" width="21.50" height="1.39" fill="#E68300"/>
<path d="M339.84 818.02L342.04 814.12L344.24 818.02Z"/>
<path d="M361.34 817.55L363.54 813.65L365.74 817.55Z"/>
<path d="M382.84 816.16L385.04 812.26L387.24 816.16Z"/>
<path d="M404.34 816.39L406.54 812.49L408.74 816.39Z"/>
<text x="374.29" y="779.10" font-size="9.5" text-anchor="middle" fill="#1a1a1a">Udmurtia*</text>
<rect x="38.90" y="841.70" width="93.40" height="44.30" fill="#fff" stroke="#cbcbcb" stroke-width="1"/>
<line x1="36.50" x2="38.90" y1="845.45" y2="845.45" stroke="#9a9a9a" stroke-width="0.8"/>
<line x1="36.50" x2="38.90" y1="861.21" y2="861.21" stroke="#9a9a9a" stroke-width="0.8"/>
<line x1="36.50" x2="38.90" y1="876.97" y2="876.97" stroke="#9a9a9a" stroke-width="0.8"/>
<rect x="42.60" y="863.90" width="21.50" height="10.90" fill="#E68300"/>
<rect x="64.10" y="862.04" width="21.50" height="9.28" fill="#E68300"/>
<rect x="85.60" y="859.72" width="21.50" height="15.55" fill="#E68300"/>
<rect x="107.10" y="846.96" width="21.50" height="11.60" fill="#E68300"/>
<path d="M51.15 877.71L53.35 873.81L55.55 877.71Z"/>
<path d="M72.65 870.75L74.85 866.85L77.05 870.75Z"/>
<path d="M94.15 874.23L96.35 870.33L98.55 874.23Z"/>
<path d="M115.65 872.38L117.85 868.48L120.05 872.38Z"/>
<text x="85.60" y="837.80" font-size="9.5" text-anchor="middle" fill="#1a1a1a">Ulyanovsk*</text>
<text x="35.60" y="848.35" font-size="8.5" text-anchor="end" fill="#1a1a1a">5</text>
<text x="35.60" y="864.11" font-size="8.5" text-anchor="end" fill="#1a1a1a">3</text>
<text x="35.60" y="879.87" font-size="8.5" text-anchor="end" fill="#1a1a1a">1</text>
<line x1="53.35" x2="53.35" y1="886.00" y2="888.40" stroke="#9a9a9a" stroke-width="0.8"/>
<text x="53.35" y="895.70" font-size="8.2" text-anchor="middle" fill="#1a1a1a">1991</text>
<line x1="74.85" x2="74.85" y1="886.00" y2="888.40" stroke="#9a9a9a" stroke-width="0.8"/>
<text x="74.85" y="895.70" font-size="8.2" text-anchor="middle" fill="#1a1a1a">1992</text>
<line x1="96.35" x2="96.35" y1="886.00" y2="888.40" stroke="#9a9a9a" stroke-width="0.8"/>
<text x="96.35" y="895.70" font-size="8.2" text-anchor="middle" fill="#1a1a1a">1993</text>
<line x1="117.85" x2="117.85" y1="886.00" y2="888.40" stroke="#9a9a9a" stroke-width="0.8"/>
<text x="117.85" y="895.70" font-size="8.2" text-anchor="middle" fill="#1a1a1a">1994</text>
<rect x="135.13" y="841.70" width="93.40" height="44.30" fill="#fff" stroke="#cbcbcb" stroke-width="1"/>
<rect x="138.83" y="879.91" width="21.50" height="1.86" fill="#E68300"/>
<rect x="160.33" y="881.07" width="21.50" height="1.62" fill="#E68300"/>
<rect x="181.83" y="874.80" width="21.50" height="2.32" fill="#E68300"/>
<rect x="203.33" y="877.12" width="21.50" height="2.09" fill="#E68300"/>
<path d="M147.38 882.59L149.58 878.69L151.78 882.59Z"/>
<path d="M168.88 882.12L171.08 878.22L173.28 882.12Z"/>
<path d="M190.38 877.71L192.58 873.81L194.78 877.71Z"/>
<path d="M211.88 879.10L214.08 875.20L216.28 879.10Z"/>
<text x="181.83" y="837.80" font-size="9.5" text-anchor="middle" fill="#1a1a1a">Volgograd*</text>
<line x1="149.58" x2="149.58" y1="886.00" y2="888.40" stroke="#9a9a9a" stroke-width="0.8"/>
<text x="149.58" y="895.70" font-size="8.2" text-anchor="middle" fill="#1a1a1a">1991</text>
<line x1="171.08" x2="171.08" y1="886.00" y2="888.40" stroke="#9a9a9a" stroke-width="0.8"/>
<text x="171.08" y="895.70" font-size="8.2" text-anchor="middle" fill="#1a1a1a">1992</text>
<line x1="192.58" x2="192.58" y1="886.00" y2="888.40" stroke="#9a9a9a" stroke-width="0.8"/>
<text x="192.58" y="895.70" font-size="8.2" text-anchor="middle" fill="#1a1a1a">1993</text>
<line x1="214.08" x2="214.08" y1="886.00" y2="888.40" stroke="#9a9a9a" stroke-width="0.8"/>
<text x="214.08" y="895.70" font-size="8.2" text-anchor="middle" fill="#1a1a1a">1994</text>
<rect x="231.36" y="841.70" width="93.40" height="44.30" fill="#fff" stroke="#cbcbcb" stroke-width="1"/>
<rect x="235.06" y="874.80" width="21.50" height="1.62" fill="#E68300"/>
<rect x="256.56" y="875.50" width="21.50" height="1.86" fill="#E68300"/>
<rect x="278.06" y="875.27" width="21.50" height="1.39" fill="#E68300"/>
<rect x="299.56" y="874.80" width="21.50" height="1.62" fill="#E68300"/>
<path d="M243.61 877.25L245.81 873.35L248.01 877.25Z"/>
<path d="M265.11 877.71L267.31 873.81L269.51 877.71Z"/>
<path d="M286.61 878.18L288.81 874.28L291.01 878.18Z"/>
<path d="M308.11 878.41L310.31 874.51L312.51 878.41Z"/>
<text x="278.06" y="837.80" font-size="9.5" text-anchor="middle" fill="#1a1a1a">Vologda*</text>
<line x1="245.81" x2="245.81" y1="886.00" y2="888.40" stroke="#9a9a9a" stroke-width="0.8"/>
<text x="245.81" y="895.70" font-size="8.2" text-anchor="middle" fill="#1a1a1a">1991</text>
<line x1="267.31" x2="267.31" y1="886.00" y2="888.40" stroke="#9a9a9a" stroke-width="0.8"/>
<text x="267.31" y="895.70" font-size="8.2" text-anchor="middle" fill="#1a1a1a">1992</text>
<line x1="288.81" x2="288.81" y1="886.00" y2="888.40" stroke="#9a9a9a" stroke-width="0.8"/>
<text x="288.81" y="895.70" font-size="8.2" text-anchor="middle" fill="#1a1a1a">1993</text>
<line x1="310.31" x2="310.31" y1="886.00" y2="888.40" stroke="#9a9a9a" stroke-width="0.8"/>
<text x="310.31" y="895.70" font-size="8.2" text-anchor="middle" fill="#1a1a1a">1994</text>
<rect x="327.59" y="841.70" width="93.40" height="44.30" fill="#fff" stroke="#cbcbcb" stroke-width="1"/>
<rect x="331.29" y="865.06" width="21.50" height="2.78" fill="#E68300"/>
<rect x="352.79" y="865.99" width="21.50" height="2.32" fill="#E68300"/>
<rect x="374.29" y="864.13" width="21.50" height="2.55" fill="#E68300"/>
<rect x="395.79" y="864.59" width="21.50" height="4.64" fill="#E68300"/>
<path d="M339.84 862.17L342.04 858.27L344.24 862.17Z"/>
<path d="M361.34 867.74L363.54 863.84L365.74 867.74Z"/>
<path d="M382.84 864.02L385.04 860.12L387.24 864.02Z"/>
<path d="M404.34 872.61L406.54 868.71L408.74 872.61Z"/>
<text x="374.29" y="837.80" font-size="9.5" text-anchor="middle" fill="#1a1a1a">Voronezh</text>
<line x1="342.04" x2="342.04" y1="886.00" y2="888.40" stroke="#9a9a9a" stroke-width="0.8"/>
<text x="342.04" y="895.70" font-size="8.2" text-anchor="middle" fill="#1a1a1a">1991</text>
<line x1="363.54" x2="363.54" y1="886.00" y2="888.40" stroke="#9a9a9a" stroke-width="0.8"/>
<text x="363.54" y="895.70" font-size="8.2" text-anchor="middle" fill="#1a1a1a">1992</text>
<line x1="385.04" x2="385.04" y1="886.00" y2="888.40" stroke="#9a9a9a" stroke-width="0.8"/>
<text x="385.04" y="895.70" font-size="8.2" text-anchor="middle" fill="#1a1a1a">1993</text>
<line x1="406.54" x2="406.54" y1="886.00" y2="888.40" stroke="#9a9a9a" stroke-width="0.8"/>
<text x="406.54" y="895.70" font-size="8.2" text-anchor="middle" fill="#1a1a1a">1994</text>
<text x="0.30" y="13.50" font-size="17" text-anchor="start" fill="#1a1a1a">(a)</text>
<text x="0.00" y="493.00" font-size="17" text-anchor="start" fill="#1a1a1a">(b)</text>
<path d="M78.25 448.70L83.00 440.90L87.75 448.70Z"/>
<text x="92.50" y="450.10" font-size="14.4" text-anchor="start" fill="#1a1a1a">Observed</text>
<rect x="186.00" y="436.70" width="22.00" height="14.60" fill="#E68300"/>
<text x="210.80" y="450.10" font-size="14.4" text-anchor="start" fill="#1a1a1a">95PPU</text>
<path d="M120.80 921.50L126.60 912.90L132.40 921.50Z"/>
<text x="143.20" y="921.50" font-size="14.4" text-anchor="start" fill="#1a1a1a">Observed</text>
<rect x="228.30" y="909.80" width="21.30" height="15.20" fill="#E68300"/>
<text x="257.90" y="921.30" font-size="14.4" text-anchor="start" fill="#1a1a1a">95PPU</text>
</svg>
</body></html>
